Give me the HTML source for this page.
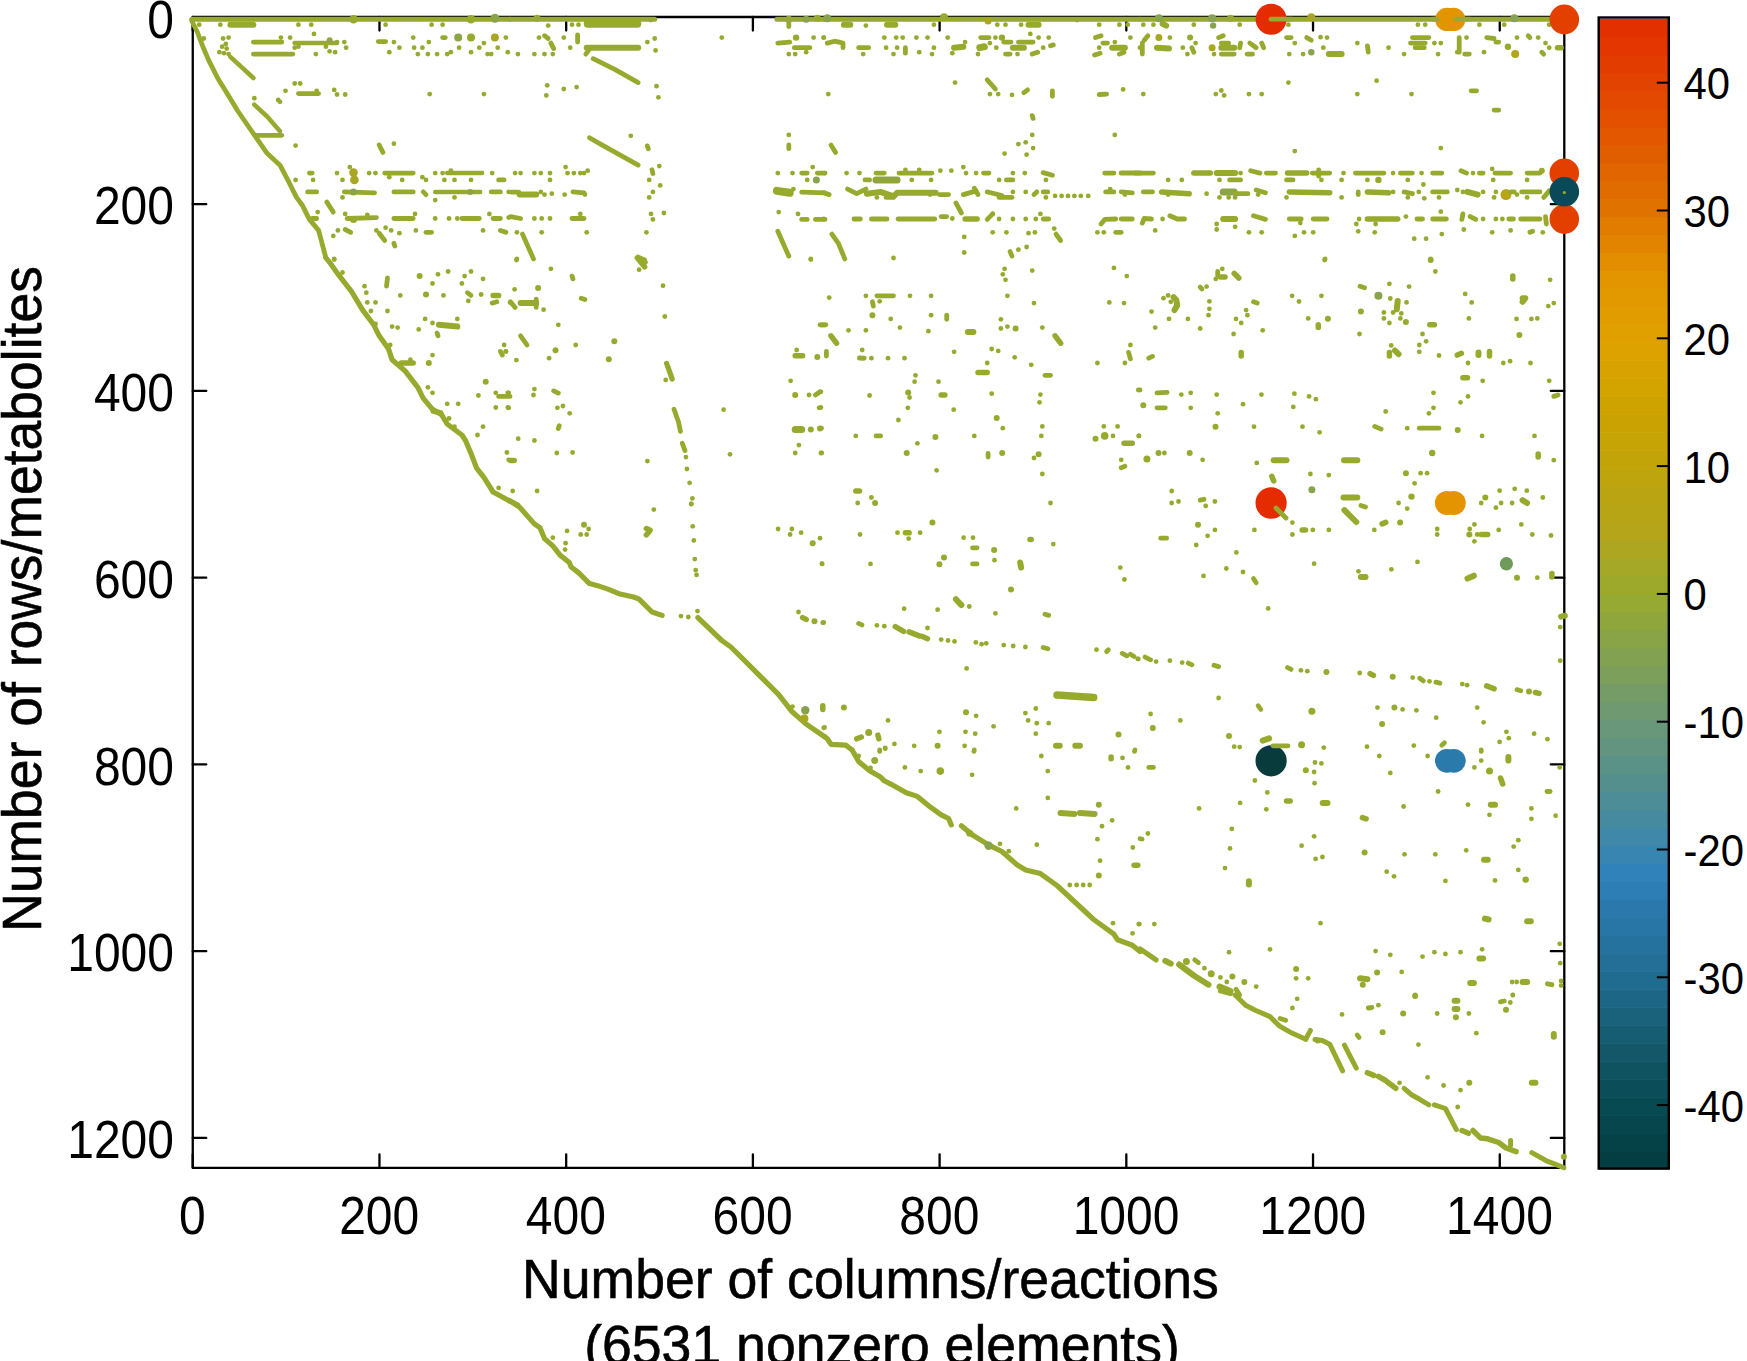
<!DOCTYPE html>
<html><head><meta charset="utf-8"><style>html,body{margin:0;padding:0;background:#fff;overflow:hidden}svg{display:block}</style></head>
<body><svg width="1747" height="1361" viewBox="0 0 1747 1361">
<rect width="1747" height="1361" fill="#fff"/>
<g stroke="#000" stroke-width="2.3" fill="none" stroke-linecap="round"><path d="M192.75,17.0 V1167.86 H1564.3 V17.0 Z" stroke-linejoin="round"/><path d="M192.75,1167.86 v-13.5 M192.75,17.0 v13.5"/><path d="M379.46,1167.86 v-13.5 M379.46,17.0 v13.5"/><path d="M566.18,1167.86 v-13.5 M566.18,17.0 v13.5"/><path d="M752.89,1167.86 v-13.5 M752.89,17.0 v13.5"/><path d="M939.61,1167.86 v-13.5 M939.61,17.0 v13.5"/><path d="M1126.32,1167.86 v-13.5 M1126.32,17.0 v13.5"/><path d="M1313.03,1167.86 v-13.5 M1313.03,17.0 v13.5"/><path d="M1499.75,1167.86 v-13.5 M1499.75,17.0 v13.5"/><path d="M192.75,17.40 h13.5 M1564.3,17.40 h-13.5"/><path d="M192.75,204.15 h13.5 M1564.3,204.15 h-13.5"/><path d="M192.75,390.90 h13.5 M1564.3,390.90 h-13.5"/><path d="M192.75,577.65 h13.5 M1564.3,577.65 h-13.5"/><path d="M192.75,764.40 h13.5 M1564.3,764.40 h-13.5"/><path d="M192.75,951.15 h13.5 M1564.3,951.15 h-13.5"/><path d="M192.75,1137.90 h13.5 M1564.3,1137.90 h-13.5"/></g>
<path d="M191.8,19.2 L510.0,19.2" stroke="#98aa2e" stroke-width="5.0" fill="none" stroke-linecap="round" stroke-linejoin="round"/>
<path d="M230.4,24.7 L253.4,24.7" stroke="#98aa2e" stroke-width="6.0" fill="none" stroke-linecap="round" stroke-linejoin="round"/>
<circle cx="199.2" cy="24.7" r="2.4" fill="#98aa2e"/>
<circle cx="220.3" cy="24.7" r="2.4" fill="#98aa2e"/>
<circle cx="298.4" cy="24.7" r="2.4" fill="#98aa2e"/>
<circle cx="311.2" cy="24.7" r="2.4" fill="#98aa2e"/>
<circle cx="385.6" cy="24.7" r="2.4" fill="#98aa2e"/>
<circle cx="431.6" cy="24.7" r="2.4" fill="#98aa2e"/>
<circle cx="442.6" cy="24.7" r="2.4" fill="#98aa2e"/>
<circle cx="353.5" cy="19.2" r="4.2" fill="#98aa2e"/>
<circle cx="471.0" cy="19.2" r="4.2" fill="#98aa2e"/>
<circle cx="494.9" cy="18.3" r="4.5" fill="#8ba544"/>
<circle cx="314.0" cy="33.9" r="2.4" fill="#98aa2e"/>
<circle cx="203.8" cy="38.5" r="2.4" fill="#98aa2e"/>
<circle cx="223.1" cy="38.5" r="2.4" fill="#98aa2e"/>
<circle cx="228.6" cy="37.6" r="2.4" fill="#98aa2e"/>
<circle cx="225.8" cy="44.0" r="2.4" fill="#98aa2e"/>
<circle cx="222.1" cy="46.7" r="2.4" fill="#98aa2e"/>
<circle cx="226.7" cy="48.6" r="2.4" fill="#98aa2e"/>
<circle cx="219.4" cy="52.2" r="2.4" fill="#98aa2e"/>
<circle cx="224.0" cy="53.2" r="2.4" fill="#98aa2e"/>
<circle cx="228.6" cy="54.1" r="2.4" fill="#98aa2e"/>
<circle cx="280.9" cy="37.6" r="2.4" fill="#98aa2e"/>
<path d="M253.4,42.1 L281.8,42.1" stroke="#98aa2e" stroke-width="4.8" fill="none" stroke-linecap="round" stroke-linejoin="round"/>
<path d="M253.4,54.1 L292.9,54.1" stroke="#98aa2e" stroke-width="4.8" fill="none" stroke-linecap="round" stroke-linejoin="round"/>
<circle cx="290.1" cy="37.6" r="2.4" fill="#98aa2e"/>
<circle cx="325.9" cy="46.7" r="2.4" fill="#98aa2e"/>
<circle cx="329.6" cy="51.3" r="2.4" fill="#98aa2e"/>
<circle cx="335.1" cy="52.2" r="2.4" fill="#98aa2e"/>
<circle cx="337.0" cy="42.1" r="2.4" fill="#98aa2e"/>
<circle cx="344.3" cy="42.1" r="2.4" fill="#98aa2e"/>
<circle cx="346.1" cy="47.7" r="2.4" fill="#98aa2e"/>
<circle cx="294.7" cy="47.7" r="2.4" fill="#98aa2e"/>
<circle cx="298.4" cy="46.7" r="2.4" fill="#98aa2e"/>
<circle cx="315.8" cy="54.1" r="2.4" fill="#98aa2e"/>
<path d="M294.7,43.1 L337.0,43.1" stroke="#98aa2e" stroke-width="4.5" fill="none" stroke-linecap="round" stroke-linejoin="round"/>
<circle cx="329.6" cy="40.3" r="3.0" fill="#90a63c"/>
<path d="M378.3,41.6 L385.6,41.6" stroke="#98aa2e" stroke-width="4.8" fill="none" stroke-linecap="round" stroke-linejoin="round"/>
<circle cx="393.9" cy="42.1" r="2.4" fill="#98aa2e"/>
<circle cx="399.4" cy="47.7" r="2.4" fill="#98aa2e"/>
<circle cx="389.3" cy="52.2" r="2.4" fill="#98aa2e"/>
<circle cx="413.2" cy="37.6" r="2.4" fill="#98aa2e"/>
<circle cx="414.1" cy="47.7" r="2.4" fill="#98aa2e"/>
<circle cx="422.4" cy="47.7" r="2.4" fill="#98aa2e"/>
<circle cx="417.8" cy="54.1" r="2.4" fill="#98aa2e"/>
<circle cx="427.9" cy="54.1" r="2.4" fill="#98aa2e"/>
<circle cx="428.8" cy="42.1" r="2.4" fill="#98aa2e"/>
<circle cx="437.1" cy="54.1" r="2.4" fill="#98aa2e"/>
<path d="M442.6,37.6 L445.3,37.6" stroke="#98aa2e" stroke-width="4.8" fill="none" stroke-linecap="round" stroke-linejoin="round"/>
<circle cx="458.2" cy="37.6" r="4.0" fill="#8ba544"/>
<circle cx="471.0" cy="37.6" r="4.0" fill="#98aa2e"/>
<circle cx="494.9" cy="37.6" r="4.0" fill="#a9a722"/>
<circle cx="505.9" cy="37.6" r="2.4" fill="#98aa2e"/>
<circle cx="459.1" cy="47.7" r="2.4" fill="#98aa2e"/>
<circle cx="479.3" cy="47.7" r="2.4" fill="#98aa2e"/>
<circle cx="483.9" cy="43.1" r="2.4" fill="#98aa2e"/>
<circle cx="497.7" cy="47.7" r="2.4" fill="#98aa2e"/>
<circle cx="471.0" cy="52.2" r="2.4" fill="#98aa2e"/>
<circle cx="447.2" cy="54.1" r="2.4" fill="#98aa2e"/>
<circle cx="450.8" cy="52.2" r="2.4" fill="#98aa2e"/>
<circle cx="491.2" cy="54.1" r="2.4" fill="#98aa2e"/>
<circle cx="487.6" cy="54.1" r="2.4" fill="#98aa2e"/>
<circle cx="507.8" cy="52.2" r="2.4" fill="#98aa2e"/>
<path d="M230.4,56.8 L253.4,78.0" stroke="#98aa2e" stroke-width="4.5" fill="none" stroke-linecap="round" stroke-linejoin="round"/>
<circle cx="294.7" cy="83.5" r="2.4" fill="#98aa2e"/>
<circle cx="300.2" cy="83.5" r="2.4" fill="#98aa2e"/>
<circle cx="285.5" cy="90.8" r="2.4" fill="#98aa2e"/>
<circle cx="316.7" cy="90.8" r="2.4" fill="#98aa2e"/>
<circle cx="334.2" cy="89.9" r="2.4" fill="#98aa2e"/>
<circle cx="337.0" cy="94.5" r="2.4" fill="#98aa2e"/>
<circle cx="345.2" cy="94.5" r="2.4" fill="#98aa2e"/>
<circle cx="429.7" cy="94.1" r="2.4" fill="#98aa2e"/>
<circle cx="483.9" cy="94.1" r="2.4" fill="#98aa2e"/>
<circle cx="254.3" cy="98.2" r="2.4" fill="#98aa2e"/>
<circle cx="278.2" cy="100.0" r="2.4" fill="#98aa2e"/>
<circle cx="280.0" cy="101.8" r="2.4" fill="#98aa2e"/>
<path d="M298.4,93.6 L318.6,93.6" stroke="#98aa2e" stroke-width="4.8" fill="none" stroke-linecap="round" stroke-linejoin="round"/>
<path d="M254.3,104.6 L267.1,116.5 L280.0,131.2" stroke="#98aa2e" stroke-width="4.5" fill="none" stroke-linecap="round" stroke-linejoin="round"/>
<path d="M255.2,135.3 L281.8,135.3" stroke="#98aa2e" stroke-width="4.8" fill="none" stroke-linecap="round" stroke-linejoin="round"/>
<circle cx="295.6" cy="145.6" r="2.4" fill="#98aa2e"/>
<circle cx="393.9" cy="143.7" r="2.4" fill="#98aa2e"/>
<path d="M379.2,145.0 L382.9,152.4" stroke="#98aa2e" stroke-width="4.8" fill="none" stroke-linecap="round" stroke-linejoin="round"/>
<path d="M191.8,21.0 L197.3,32.0 L202.9,46.7 L208.4,59.6 L217.6,78.0 L226.7,92.7 L237.8,111.0 L254.3,134.9 L267.1,153.3 L280.0,165.2 L289.2,182.7 L296.5,197.4 L302.0,204.7 L309.4,219.4 L318.6,230.4 L325.9,258.0" stroke="#98aa2e" stroke-width="4.8" fill="none" stroke-linecap="round" stroke-linejoin="round"/>
<path d="M309.4,173.1 L312.2,173.1" stroke="#98aa2e" stroke-width="4.8" fill="none" stroke-linecap="round" stroke-linejoin="round"/>
<circle cx="337.0" cy="173.1" r="2.4" fill="#98aa2e"/>
<circle cx="349.8" cy="167.1" r="2.4" fill="#98aa2e"/>
<circle cx="369.1" cy="173.1" r="2.4" fill="#98aa2e"/>
<circle cx="375.5" cy="173.1" r="2.4" fill="#98aa2e"/>
<circle cx="389.3" cy="177.2" r="2.4" fill="#98aa2e"/>
<circle cx="402.2" cy="179.9" r="2.4" fill="#98aa2e"/>
<circle cx="422.4" cy="177.2" r="2.4" fill="#98aa2e"/>
<circle cx="426.0" cy="179.9" r="2.4" fill="#98aa2e"/>
<circle cx="435.2" cy="173.1" r="2.4" fill="#98aa2e"/>
<circle cx="442.6" cy="173.1" r="2.4" fill="#98aa2e"/>
<circle cx="444.4" cy="179.9" r="2.4" fill="#98aa2e"/>
<circle cx="450.8" cy="170.7" r="2.4" fill="#98aa2e"/>
<circle cx="454.5" cy="179.9" r="2.4" fill="#98aa2e"/>
<circle cx="471.0" cy="179.9" r="2.4" fill="#98aa2e"/>
<circle cx="492.2" cy="173.1" r="2.4" fill="#98aa2e"/>
<circle cx="295.6" cy="179.9" r="2.4" fill="#98aa2e"/>
<circle cx="313.1" cy="179.9" r="2.4" fill="#98aa2e"/>
<circle cx="342.5" cy="179.9" r="2.4" fill="#98aa2e"/>
<circle cx="353.5" cy="172.6" r="4.3" fill="#a9a722"/>
<circle cx="354.4" cy="179.9" r="4.3" fill="#a9a722"/>
<path d="M384.7,173.1 L413.2,173.1" stroke="#98aa2e" stroke-width="4.8" fill="none" stroke-linecap="round" stroke-linejoin="round"/>
<path d="M447.2,173.1 L482.1,173.1" stroke="#98aa2e" stroke-width="4.5" fill="none" stroke-linecap="round" stroke-linejoin="round"/>
<path d="M498.6,179.9 L504.1,179.9" stroke="#98aa2e" stroke-width="4.8" fill="none" stroke-linecap="round" stroke-linejoin="round"/>
<path d="M307.6,191.9 L316.7,191.9" stroke="#98aa2e" stroke-width="4.8" fill="none" stroke-linecap="round" stroke-linejoin="round"/>
<circle cx="342.5" cy="197.4" r="2.4" fill="#98aa2e"/>
<circle cx="435.2" cy="200.1" r="2.4" fill="#98aa2e"/>
<circle cx="454.5" cy="197.4" r="2.4" fill="#98aa2e"/>
<circle cx="508.7" cy="191.9" r="2.4" fill="#98aa2e"/>
<path d="M344.3,191.9 L374.6,192.8" stroke="#98aa2e" stroke-width="4.8" fill="none" stroke-linecap="round" stroke-linejoin="round"/>
<circle cx="353.5" cy="191.9" r="3.5" fill="#8ba544"/>
<path d="M393.9,191.9 L413.2,191.9" stroke="#98aa2e" stroke-width="4.8" fill="none" stroke-linecap="round" stroke-linejoin="round"/>
<path d="M423.3,191.9 L426.0,194.6" stroke="#98aa2e" stroke-width="4.8" fill="none" stroke-linecap="round" stroke-linejoin="round"/>
<path d="M435.2,191.9 L480.2,191.9" stroke="#98aa2e" stroke-width="4.5" fill="none" stroke-linecap="round" stroke-linejoin="round"/>
<circle cx="470.1" cy="191.9" r="3.0" fill="#8ba544"/>
<path d="M491.2,191.9 L500.4,191.9" stroke="#98aa2e" stroke-width="4.8" fill="none" stroke-linecap="round" stroke-linejoin="round"/>
<path d="M326.8,202.0 L333.3,212.1" stroke="#98aa2e" stroke-width="4.8" fill="none" stroke-linecap="round" stroke-linejoin="round"/>
<circle cx="317.7" cy="212.1" r="2.4" fill="#98aa2e"/>
<circle cx="345.2" cy="213.9" r="2.4" fill="#98aa2e"/>
<circle cx="367.3" cy="214.8" r="2.4" fill="#98aa2e"/>
<circle cx="415.0" cy="213.9" r="2.4" fill="#98aa2e"/>
<circle cx="435.2" cy="218.5" r="2.4" fill="#98aa2e"/>
<circle cx="449.0" cy="218.5" r="2.4" fill="#98aa2e"/>
<circle cx="457.3" cy="218.5" r="2.4" fill="#98aa2e"/>
<circle cx="489.4" cy="213.9" r="2.4" fill="#98aa2e"/>
<circle cx="508.7" cy="217.6" r="2.4" fill="#98aa2e"/>
<path d="M312.2,218.5 L316.7,218.5" stroke="#98aa2e" stroke-width="4.8" fill="none" stroke-linecap="round" stroke-linejoin="round"/>
<path d="M347.1,218.5 L376.4,217.6" stroke="#98aa2e" stroke-width="4.8" fill="none" stroke-linecap="round" stroke-linejoin="round"/>
<circle cx="353.5" cy="219.4" r="3.5" fill="#98aa2e"/>
<path d="M393.9,218.5 L413.2,218.5" stroke="#98aa2e" stroke-width="4.8" fill="none" stroke-linecap="round" stroke-linejoin="round"/>
<path d="M461.9,218.5 L479.3,218.5" stroke="#98aa2e" stroke-width="4.8" fill="none" stroke-linecap="round" stroke-linejoin="round"/>
<path d="M493.1,218.5 L500.4,218.5" stroke="#98aa2e" stroke-width="4.8" fill="none" stroke-linecap="round" stroke-linejoin="round"/>
<circle cx="337.9" cy="230.4" r="2.4" fill="#98aa2e"/>
<circle cx="333.3" cy="235.9" r="2.4" fill="#98aa2e"/>
<circle cx="376.4" cy="230.4" r="2.4" fill="#98aa2e"/>
<circle cx="385.6" cy="227.7" r="2.4" fill="#98aa2e"/>
<circle cx="391.1" cy="230.4" r="2.4" fill="#98aa2e"/>
<circle cx="399.4" cy="233.2" r="2.4" fill="#98aa2e"/>
<circle cx="415.9" cy="230.4" r="2.4" fill="#98aa2e"/>
<circle cx="483.0" cy="230.4" r="2.4" fill="#98aa2e"/>
<circle cx="334.2" cy="258.9" r="2.4" fill="#98aa2e"/>
<path d="M345.2,229.5 L350.7,232.3" stroke="#98aa2e" stroke-width="4.8" fill="none" stroke-linecap="round" stroke-linejoin="round"/>
<path d="M379.2,233.2 L384.7,240.5" stroke="#98aa2e" stroke-width="4.8" fill="none" stroke-linecap="round" stroke-linejoin="round"/>
<path d="M393.9,243.3 L394.8,246.0" stroke="#98aa2e" stroke-width="4.8" fill="none" stroke-linecap="round" stroke-linejoin="round"/>
<path d="M426.0,232.3 L431.6,232.3" stroke="#98aa2e" stroke-width="4.8" fill="none" stroke-linecap="round" stroke-linejoin="round"/>
<path d="M500.4,230.4 L505.9,232.3" stroke="#98aa2e" stroke-width="4.8" fill="none" stroke-linecap="round" stroke-linejoin="round"/>
<path d="M510.0,19.2 L654.7,19.2" stroke="#98aa2e" stroke-width="5.0" fill="none" stroke-linecap="round" stroke-linejoin="round"/>
<path d="M776.9,19.2 L825.0,19.2" stroke="#98aa2e" stroke-width="5.0" fill="none" stroke-linecap="round" stroke-linejoin="round"/>
<circle cx="788.8" cy="19.2" r="3.5" fill="#98aa2e"/>
<circle cx="817.3" cy="18.3" r="3.5" fill="#98aa2e"/>
<circle cx="806.2" cy="19.2" r="3.5" fill="#8ba544"/>
<circle cx="537.1" cy="18.3" r="3.5" fill="#98aa2e"/>
<path d="M587.7,23.8 L637.3,23.8" stroke="#98aa2e" stroke-width="8.0" fill="none" stroke-linecap="round" stroke-linejoin="round"/>
<circle cx="548.2" cy="25.6" r="2.4" fill="#98aa2e"/>
<circle cx="572.0" cy="24.7" r="2.4" fill="#98aa2e"/>
<circle cx="578.5" cy="24.7" r="2.4" fill="#98aa2e"/>
<circle cx="651.0" cy="20.1" r="2.4" fill="#98aa2e"/>
<path d="M788.8,19.2 L788.8,26.5" stroke="#98aa2e" stroke-width="4.8" fill="none" stroke-linecap="round" stroke-linejoin="round"/>
<circle cx="539.0" cy="37.6" r="2.4" fill="#98aa2e"/>
<circle cx="563.8" cy="37.6" r="2.4" fill="#98aa2e"/>
<circle cx="570.2" cy="47.7" r="2.4" fill="#98aa2e"/>
<circle cx="517.9" cy="54.1" r="2.4" fill="#98aa2e"/>
<circle cx="534.4" cy="54.1" r="2.4" fill="#98aa2e"/>
<circle cx="544.5" cy="54.1" r="2.4" fill="#98aa2e"/>
<circle cx="552.8" cy="54.1" r="2.4" fill="#98aa2e"/>
<circle cx="647.4" cy="42.1" r="2.4" fill="#98aa2e"/>
<circle cx="654.7" cy="38.5" r="2.4" fill="#98aa2e"/>
<circle cx="655.6" cy="50.4" r="2.4" fill="#98aa2e"/>
<path d="M544.5,35.7 L548.2,38.5" stroke="#98aa2e" stroke-width="4.8" fill="none" stroke-linecap="round" stroke-linejoin="round"/>
<path d="M550.9,43.1 L553.7,48.6" stroke="#98aa2e" stroke-width="4.8" fill="none" stroke-linecap="round" stroke-linejoin="round"/>
<path d="M577.6,34.8 L577.6,42.1" stroke="#98aa2e" stroke-width="4.8" fill="none" stroke-linecap="round" stroke-linejoin="round"/>
<path d="M586.7,47.7 L638.2,47.7" stroke="#98aa2e" stroke-width="6.0" fill="none" stroke-linecap="round" stroke-linejoin="round"/>
<path d="M585.8,54.1 L588.6,50.4" stroke="#98aa2e" stroke-width="4.8" fill="none" stroke-linecap="round" stroke-linejoin="round"/>
<path d="M593.2,58.7 L615.2,69.7 L638.2,82.6" stroke="#98aa2e" stroke-width="4.8" fill="none" stroke-linecap="round" stroke-linejoin="round"/>
<circle cx="547.2" cy="85.3" r="2.4" fill="#98aa2e"/>
<circle cx="546.3" cy="95.4" r="2.4" fill="#98aa2e"/>
<circle cx="563.8" cy="89.0" r="2.4" fill="#98aa2e"/>
<circle cx="576.6" cy="87.1" r="2.4" fill="#98aa2e"/>
<circle cx="656.5" cy="86.2" r="2.4" fill="#98aa2e"/>
<circle cx="658.4" cy="97.3" r="2.4" fill="#98aa2e"/>
<circle cx="721.8" cy="37.6" r="2.4" fill="#98aa2e"/>
<path d="M777.8,43.1 L789.7,42.1" stroke="#98aa2e" stroke-width="4.8" fill="none" stroke-linecap="round" stroke-linejoin="round"/>
<circle cx="796.1" cy="37.6" r="3.2" fill="#98aa2e"/>
<path d="M794.3,47.7 L809.9,47.7" stroke="#98aa2e" stroke-width="4.8" fill="none" stroke-linecap="round" stroke-linejoin="round"/>
<circle cx="788.8" cy="54.1" r="2.4" fill="#98aa2e"/>
<circle cx="795.2" cy="54.1" r="2.4" fill="#98aa2e"/>
<circle cx="806.2" cy="52.2" r="2.4" fill="#98aa2e"/>
<circle cx="813.6" cy="37.6" r="2.4" fill="#98aa2e"/>
<circle cx="823.7" cy="37.6" r="2.4" fill="#98aa2e"/>
<path d="M589.5,137.7 L600.5,144.1 L638.2,165.2" stroke="#98aa2e" stroke-width="4.8" fill="none" stroke-linecap="round" stroke-linejoin="round"/>
<circle cx="630.8" cy="135.8" r="2.4" fill="#98aa2e"/>
<circle cx="659.3" cy="166.1" r="2.4" fill="#98aa2e"/>
<circle cx="649.2" cy="179.9" r="2.4" fill="#98aa2e"/>
<circle cx="660.2" cy="185.4" r="2.4" fill="#98aa2e"/>
<circle cx="652.9" cy="191.9" r="2.4" fill="#98aa2e"/>
<circle cx="649.2" cy="197.4" r="2.4" fill="#98aa2e"/>
<circle cx="651.0" cy="213.9" r="2.4" fill="#98aa2e"/>
<circle cx="652.9" cy="219.4" r="2.4" fill="#98aa2e"/>
<circle cx="663.9" cy="213.0" r="2.4" fill="#98aa2e"/>
<circle cx="646.4" cy="232.3" r="2.4" fill="#98aa2e"/>
<circle cx="586.7" cy="232.3" r="2.4" fill="#98aa2e"/>
<circle cx="541.7" cy="232.3" r="2.4" fill="#98aa2e"/>
<circle cx="516.9" cy="232.3" r="2.4" fill="#98aa2e"/>
<path d="M647.4,145.9 L648.3,148.7" stroke="#98aa2e" stroke-width="4.8" fill="none" stroke-linecap="round" stroke-linejoin="round"/>
<path d="M652.0,169.8 L652.9,173.5" stroke="#98aa2e" stroke-width="4.8" fill="none" stroke-linecap="round" stroke-linejoin="round"/>
<circle cx="515.1" cy="173.1" r="2.4" fill="#98aa2e"/>
<circle cx="520.6" cy="173.1" r="2.4" fill="#98aa2e"/>
<circle cx="534.4" cy="173.1" r="2.4" fill="#98aa2e"/>
<circle cx="540.8" cy="173.1" r="2.4" fill="#98aa2e"/>
<circle cx="550.0" cy="173.1" r="2.4" fill="#98aa2e"/>
<circle cx="550.0" cy="179.9" r="2.4" fill="#98aa2e"/>
<circle cx="565.6" cy="167.1" r="2.4" fill="#98aa2e"/>
<circle cx="567.5" cy="173.1" r="2.4" fill="#98aa2e"/>
<circle cx="573.9" cy="173.1" r="2.4" fill="#98aa2e"/>
<circle cx="580.3" cy="173.1" r="2.4" fill="#98aa2e"/>
<circle cx="584.0" cy="173.1" r="2.4" fill="#98aa2e"/>
<circle cx="587.7" cy="170.7" r="2.4" fill="#98aa2e"/>
<path d="M511.4,192.2 L518.8,192.2" stroke="#98aa2e" stroke-width="4.8" fill="none" stroke-linecap="round" stroke-linejoin="round"/>
<path d="M519.7,194.6 L536.2,194.6" stroke="#98aa2e" stroke-width="6.0" fill="none" stroke-linecap="round" stroke-linejoin="round"/>
<circle cx="540.8" cy="191.9" r="2.4" fill="#98aa2e"/>
<circle cx="544.5" cy="194.6" r="2.4" fill="#98aa2e"/>
<circle cx="551.8" cy="193.7" r="2.4" fill="#98aa2e"/>
<circle cx="564.7" cy="194.6" r="2.4" fill="#98aa2e"/>
<circle cx="584.9" cy="194.6" r="2.4" fill="#98aa2e"/>
<path d="M573.0,191.9 L584.0,192.8" stroke="#98aa2e" stroke-width="4.8" fill="none" stroke-linecap="round" stroke-linejoin="round"/>
<path d="M510.5,216.6 L520.6,218.5" stroke="#98aa2e" stroke-width="4.8" fill="none" stroke-linecap="round" stroke-linejoin="round"/>
<circle cx="534.4" cy="218.5" r="2.4" fill="#98aa2e"/>
<circle cx="541.7" cy="218.5" r="2.4" fill="#98aa2e"/>
<circle cx="550.0" cy="218.5" r="2.4" fill="#98aa2e"/>
<circle cx="580.3" cy="213.9" r="2.4" fill="#98aa2e"/>
<path d="M572.0,218.5 L584.0,218.5" stroke="#98aa2e" stroke-width="4.8" fill="none" stroke-linecap="round" stroke-linejoin="round"/>
<path d="M522.5,234.1 L533.5,258.9" stroke="#98aa2e" stroke-width="4.8" fill="none" stroke-linecap="round" stroke-linejoin="round"/>
<circle cx="516.9" cy="258.9" r="2.4" fill="#98aa2e"/>
<circle cx="788.8" cy="134.9" r="2.4" fill="#98aa2e"/>
<circle cx="777.8" cy="173.1" r="2.4" fill="#98aa2e"/>
<circle cx="792.5" cy="173.1" r="2.4" fill="#98aa2e"/>
<circle cx="812.7" cy="167.1" r="2.4" fill="#98aa2e"/>
<circle cx="807.2" cy="179.9" r="2.4" fill="#98aa2e"/>
<circle cx="793.4" cy="189.1" r="2.4" fill="#98aa2e"/>
<circle cx="778.7" cy="212.1" r="2.4" fill="#98aa2e"/>
<circle cx="798.0" cy="213.9" r="2.4" fill="#98aa2e"/>
<circle cx="810.8" cy="258.9" r="2.4" fill="#98aa2e"/>
<path d="M638.2,257.1 L644.6,260.0" stroke="#98aa2e" stroke-width="4.8" fill="none" stroke-linecap="round" stroke-linejoin="round"/>
<path d="M788.8,145.0 L788.8,148.7" stroke="#98aa2e" stroke-width="4.8" fill="none" stroke-linecap="round" stroke-linejoin="round"/>
<path d="M801.7,173.1 L807.2,173.1" stroke="#98aa2e" stroke-width="4.8" fill="none" stroke-linecap="round" stroke-linejoin="round"/>
<path d="M817.3,173.1 L825.0,173.1" stroke="#98aa2e" stroke-width="4.8" fill="none" stroke-linecap="round" stroke-linejoin="round"/>
<circle cx="816.4" cy="179.9" r="3.5" fill="#87a34b"/>
<path d="M776.9,190.9 L789.7,192.8" stroke="#98aa2e" stroke-width="8.0" fill="none" stroke-linecap="round" stroke-linejoin="round"/>
<path d="M801.7,192.2 L825.0,192.8" stroke="#98aa2e" stroke-width="4.8" fill="none" stroke-linecap="round" stroke-linejoin="round"/>
<path d="M801.7,219.4 L807.2,219.4" stroke="#98aa2e" stroke-width="4.8" fill="none" stroke-linecap="round" stroke-linejoin="round"/>
<path d="M815.4,219.4 L825.0,219.4" stroke="#98aa2e" stroke-width="4.8" fill="none" stroke-linecap="round" stroke-linejoin="round"/>
<path d="M777.8,231.3 L788.8,256.1" stroke="#98aa2e" stroke-width="4.8" fill="none" stroke-linecap="round" stroke-linejoin="round"/>
<path d="M825.0,19.2 L1140.0,19.2" stroke="#98aa2e" stroke-width="5.0" fill="none" stroke-linecap="round" stroke-linejoin="round"/>
<circle cx="827.3" cy="18.3" r="4.0" fill="#87a34b"/>
<circle cx="944.0" cy="17.3" r="4.0" fill="#98aa2e"/>
<circle cx="988.1" cy="21.0" r="3.5" fill="#a9a722"/>
<path d="M843.9,24.7 L850.3,24.7" stroke="#98aa2e" stroke-width="6.0" fill="none" stroke-linecap="round" stroke-linejoin="round"/>
<path d="M887.0,24.7 L895.3,24.7" stroke="#98aa2e" stroke-width="6.0" fill="none" stroke-linecap="round" stroke-linejoin="round"/>
<path d="M1028.5,24.7 L1038.6,24.7" stroke="#98aa2e" stroke-width="6.0" fill="none" stroke-linecap="round" stroke-linejoin="round"/>
<circle cx="865.9" cy="25.6" r="2.4" fill="#98aa2e"/>
<circle cx="933.9" cy="24.7" r="2.4" fill="#98aa2e"/>
<circle cx="997.3" cy="24.7" r="2.4" fill="#98aa2e"/>
<circle cx="1005.5" cy="24.7" r="2.4" fill="#98aa2e"/>
<circle cx="1021.1" cy="24.7" r="2.4" fill="#98aa2e"/>
<circle cx="1077.2" cy="20.1" r="2.4" fill="#98aa2e"/>
<circle cx="1099.2" cy="24.7" r="2.4" fill="#98aa2e"/>
<circle cx="1119.4" cy="24.7" r="2.4" fill="#98aa2e"/>
<circle cx="1127.7" cy="24.7" r="2.4" fill="#98aa2e"/>
<circle cx="823.7" cy="37.6" r="2.4" fill="#98aa2e"/>
<circle cx="863.2" cy="54.1" r="2.4" fill="#98aa2e"/>
<circle cx="884.3" cy="37.6" r="2.4" fill="#98aa2e"/>
<circle cx="896.2" cy="37.6" r="2.4" fill="#98aa2e"/>
<circle cx="902.7" cy="37.6" r="2.4" fill="#98aa2e"/>
<circle cx="886.1" cy="47.7" r="2.4" fill="#98aa2e"/>
<circle cx="897.1" cy="47.7" r="2.4" fill="#98aa2e"/>
<circle cx="893.5" cy="54.1" r="2.4" fill="#98aa2e"/>
<circle cx="916.4" cy="37.6" r="2.4" fill="#98aa2e"/>
<circle cx="927.5" cy="37.6" r="2.4" fill="#98aa2e"/>
<circle cx="919.2" cy="52.2" r="2.4" fill="#98aa2e"/>
<circle cx="933.9" cy="47.7" r="2.4" fill="#98aa2e"/>
<circle cx="932.0" cy="54.1" r="2.4" fill="#98aa2e"/>
<circle cx="947.7" cy="37.6" r="2.4" fill="#98aa2e"/>
<circle cx="952.3" cy="53.2" r="2.4" fill="#98aa2e"/>
<circle cx="965.1" cy="42.1" r="2.4" fill="#98aa2e"/>
<path d="M827.3,43.1 L834.7,41.2 L843.0,43.1 L843.0,47.7" stroke="#98aa2e" stroke-width="4.8" fill="none" stroke-linecap="round" stroke-linejoin="round"/>
<path d="M858.6,47.7 L868.7,47.7" stroke="#98aa2e" stroke-width="4.8" fill="none" stroke-linecap="round" stroke-linejoin="round"/>
<path d="M905.4,47.7 L905.4,53.2" stroke="#98aa2e" stroke-width="4.8" fill="none" stroke-linecap="round" stroke-linejoin="round"/>
<path d="M954.1,47.7 L963.3,46.7" stroke="#98aa2e" stroke-width="6.0" fill="none" stroke-linecap="round" stroke-linejoin="round"/>
<path d="M980.7,37.6 L989.0,37.6" stroke="#98aa2e" stroke-width="4.8" fill="none" stroke-linecap="round" stroke-linejoin="round"/>
<circle cx="995.4" cy="37.6" r="2.4" fill="#98aa2e"/>
<circle cx="989.9" cy="43.1" r="2.4" fill="#98aa2e"/>
<circle cx="996.3" cy="47.7" r="2.4" fill="#98aa2e"/>
<circle cx="978.0" cy="54.1" r="2.4" fill="#98aa2e"/>
<circle cx="1017.5" cy="54.1" r="2.4" fill="#98aa2e"/>
<circle cx="1030.3" cy="33.9" r="2.4" fill="#98aa2e"/>
<circle cx="1038.6" cy="37.6" r="2.4" fill="#98aa2e"/>
<circle cx="1048.7" cy="37.6" r="2.4" fill="#98aa2e"/>
<circle cx="1043.2" cy="47.7" r="2.4" fill="#98aa2e"/>
<circle cx="1001.9" cy="37.6" r="3.2" fill="#98aa2e"/>
<path d="M1003.7,42.1 L1011.0,42.1" stroke="#98aa2e" stroke-width="4.8" fill="none" stroke-linecap="round" stroke-linejoin="round"/>
<path d="M979.8,47.7 L984.4,46.7" stroke="#98aa2e" stroke-width="7.0" fill="none" stroke-linecap="round" stroke-linejoin="round"/>
<path d="M1005.5,54.1 L1010.1,54.1" stroke="#98aa2e" stroke-width="4.8" fill="none" stroke-linecap="round" stroke-linejoin="round"/>
<path d="M1012.9,47.7 L1023.9,47.7" stroke="#98aa2e" stroke-width="6.0" fill="none" stroke-linecap="round" stroke-linejoin="round"/>
<path d="M1018.4,42.1 L1033.1,42.1" stroke="#98aa2e" stroke-width="4.8" fill="none" stroke-linecap="round" stroke-linejoin="round"/>
<path d="M1050.5,45.8 L1053.3,44.9" stroke="#98aa2e" stroke-width="4.8" fill="none" stroke-linecap="round" stroke-linejoin="round"/>
<path d="M1032.2,54.1 L1037.7,52.2" stroke="#98aa2e" stroke-width="4.8" fill="none" stroke-linecap="round" stroke-linejoin="round"/>
<path d="M1095.5,37.6 L1101.0,35.7" stroke="#98aa2e" stroke-width="4.8" fill="none" stroke-linecap="round" stroke-linejoin="round"/>
<path d="M1102.9,43.1 L1107.5,43.1" stroke="#98aa2e" stroke-width="4.8" fill="none" stroke-linecap="round" stroke-linejoin="round"/>
<circle cx="1099.2" cy="47.7" r="2.4" fill="#98aa2e"/>
<circle cx="1114.8" cy="42.1" r="2.4" fill="#98aa2e"/>
<circle cx="1130.4" cy="37.6" r="2.4" fill="#98aa2e"/>
<circle cx="1140.0" cy="47.7" r="2.4" fill="#98aa2e"/>
<path d="M1094.6,55.0 L1100.1,53.2" stroke="#98aa2e" stroke-width="4.8" fill="none" stroke-linecap="round" stroke-linejoin="round"/>
<path d="M1112.1,47.7 L1124.9,47.7" stroke="#98aa2e" stroke-width="6.0" fill="none" stroke-linecap="round" stroke-linejoin="round"/>
<path d="M1119.4,54.1 L1124.0,52.2" stroke="#98aa2e" stroke-width="4.8" fill="none" stroke-linecap="round" stroke-linejoin="round"/>
<circle cx="828.3" cy="94.1" r="2.4" fill="#98aa2e"/>
<circle cx="955.0" cy="82.6" r="2.4" fill="#98aa2e"/>
<circle cx="989.9" cy="94.1" r="2.4" fill="#98aa2e"/>
<circle cx="998.2" cy="94.1" r="2.4" fill="#98aa2e"/>
<circle cx="1012.0" cy="94.9" r="2.4" fill="#98aa2e"/>
<circle cx="1123.1" cy="89.4" r="2.4" fill="#98aa2e"/>
<circle cx="1032.2" cy="134.9" r="2.4" fill="#98aa2e"/>
<circle cx="1018.4" cy="144.1" r="2.4" fill="#98aa2e"/>
<circle cx="1025.7" cy="142.3" r="2.4" fill="#98aa2e"/>
<circle cx="1033.1" cy="148.1" r="2.4" fill="#98aa2e"/>
<circle cx="1004.6" cy="153.6" r="2.4" fill="#98aa2e"/>
<circle cx="1026.6" cy="154.7" r="2.4" fill="#98aa2e"/>
<circle cx="1114.8" cy="134.9" r="2.4" fill="#98aa2e"/>
<path d="M987.2,79.8 L995.4,89.0" stroke="#98aa2e" stroke-width="4.8" fill="none" stroke-linecap="round" stroke-linejoin="round"/>
<path d="M1023.9,92.7 L1027.6,89.9" stroke="#98aa2e" stroke-width="4.8" fill="none" stroke-linecap="round" stroke-linejoin="round"/>
<path d="M1052.4,90.8 L1052.4,96.3" stroke="#98aa2e" stroke-width="4.8" fill="none" stroke-linecap="round" stroke-linejoin="round"/>
<path d="M1099.2,94.5 L1106.6,94.1" stroke="#98aa2e" stroke-width="4.8" fill="none" stroke-linecap="round" stroke-linejoin="round"/>
<path d="M1032.2,115.6 L1033.1,118.4" stroke="#98aa2e" stroke-width="4.8" fill="none" stroke-linecap="round" stroke-linejoin="round"/>
<path d="M831.0,145.0 L835.6,152.4" stroke="#98aa2e" stroke-width="4.8" fill="none" stroke-linecap="round" stroke-linejoin="round"/>
<circle cx="824.6" cy="173.1" r="2.4" fill="#98aa2e"/>
<circle cx="846.6" cy="173.1" r="2.4" fill="#98aa2e"/>
<circle cx="859.5" cy="173.1" r="2.4" fill="#98aa2e"/>
<circle cx="940.3" cy="170.7" r="2.4" fill="#98aa2e"/>
<circle cx="951.3" cy="170.7" r="2.4" fill="#98aa2e"/>
<circle cx="963.3" cy="167.1" r="2.4" fill="#98aa2e"/>
<circle cx="966.0" cy="173.1" r="2.4" fill="#98aa2e"/>
<circle cx="976.1" cy="173.1" r="2.4" fill="#98aa2e"/>
<circle cx="1012.9" cy="173.1" r="2.4" fill="#98aa2e"/>
<circle cx="1024.8" cy="173.1" r="2.4" fill="#98aa2e"/>
<circle cx="905.4" cy="169.8" r="2.4" fill="#98aa2e"/>
<circle cx="919.2" cy="169.8" r="2.4" fill="#98aa2e"/>
<path d="M876.0,173.1 L884.3,173.1" stroke="#98aa2e" stroke-width="4.8" fill="none" stroke-linecap="round" stroke-linejoin="round"/>
<path d="M899.0,173.1 L932.0,173.1" stroke="#98aa2e" stroke-width="4.8" fill="none" stroke-linecap="round" stroke-linejoin="round"/>
<path d="M983.5,173.1 L989.0,173.1" stroke="#98aa2e" stroke-width="4.8" fill="none" stroke-linecap="round" stroke-linejoin="round"/>
<path d="M1043.2,172.6 L1052.4,175.3" stroke="#98aa2e" stroke-width="4.8" fill="none" stroke-linecap="round" stroke-linejoin="round"/>
<path d="M1104.7,173.1 L1113.9,173.1" stroke="#98aa2e" stroke-width="4.8" fill="none" stroke-linecap="round" stroke-linejoin="round"/>
<path d="M1121.2,173.1 L1140.0,173.1" stroke="#98aa2e" stroke-width="5.0" fill="none" stroke-linecap="round" stroke-linejoin="round"/>
<circle cx="911.8" cy="179.9" r="2.4" fill="#98aa2e"/>
<circle cx="931.1" cy="179.9" r="2.4" fill="#98aa2e"/>
<circle cx="999.1" cy="179.9" r="2.4" fill="#98aa2e"/>
<circle cx="1045.9" cy="179.9" r="2.4" fill="#98aa2e"/>
<path d="M865.0,179.9 L869.6,179.9" stroke="#98aa2e" stroke-width="4.8" fill="none" stroke-linecap="round" stroke-linejoin="round"/>
<path d="M876.0,179.9 L897.1,179.9" stroke="#90a63c" stroke-width="7.0" fill="none" stroke-linecap="round" stroke-linejoin="round"/>
<path d="M1006.4,179.9 L1012.9,179.9" stroke="#98aa2e" stroke-width="4.8" fill="none" stroke-linecap="round" stroke-linejoin="round"/>
<path d="M823.7,192.8 L829.2,194.6" stroke="#98aa2e" stroke-width="4.8" fill="none" stroke-linecap="round" stroke-linejoin="round"/>
<path d="M847.6,189.1 L856.7,193.7 L865.9,189.1" stroke="#98aa2e" stroke-width="4.8" fill="none" stroke-linecap="round" stroke-linejoin="round"/>
<path d="M866.8,193.7 L880.6,191.9 L893.5,196.4 L897.1,192.8 L935.7,192.8" stroke="#98aa2e" stroke-width="6.0" fill="none" stroke-linecap="round" stroke-linejoin="round"/>
<path d="M886.1,197.4 L893.5,197.4" stroke="#98aa2e" stroke-width="4.8" fill="none" stroke-linecap="round" stroke-linejoin="round"/>
<circle cx="876.9" cy="197.4" r="2.4" fill="#98aa2e"/>
<circle cx="930.2" cy="194.6" r="2.4" fill="#98aa2e"/>
<circle cx="1012.9" cy="191.9" r="2.4" fill="#98aa2e"/>
<circle cx="1025.7" cy="191.9" r="2.4" fill="#98aa2e"/>
<circle cx="1045.9" cy="197.4" r="2.4" fill="#98aa2e"/>
<circle cx="1110.2" cy="189.1" r="2.4" fill="#98aa2e"/>
<circle cx="1124.9" cy="194.6" r="2.4" fill="#98aa2e"/>
<path d="M939.4,194.6 L948.6,194.6" stroke="#98aa2e" stroke-width="4.8" fill="none" stroke-linecap="round" stroke-linejoin="round"/>
<path d="M963.3,194.6 L976.1,190.9" stroke="#98aa2e" stroke-width="4.8" fill="none" stroke-linecap="round" stroke-linejoin="round"/>
<path d="M974.3,188.2 L978.0,194.6" stroke="#98aa2e" stroke-width="4.8" fill="none" stroke-linecap="round" stroke-linejoin="round"/>
<path d="M987.2,191.9 L1001.9,195.5" stroke="#98aa2e" stroke-width="4.8" fill="none" stroke-linecap="round" stroke-linejoin="round"/>
<path d="M999.1,197.4 L1012.0,197.4" stroke="#98aa2e" stroke-width="4.8" fill="none" stroke-linecap="round" stroke-linejoin="round"/>
<path d="M1034.0,194.6 L1036.8,191.9" stroke="#98aa2e" stroke-width="4.8" fill="none" stroke-linecap="round" stroke-linejoin="round"/>
<path d="M1043.2,191.9 L1047.8,191.9" stroke="#98aa2e" stroke-width="4.8" fill="none" stroke-linecap="round" stroke-linejoin="round"/>
<circle cx="1055.1" cy="195.9" r="2.4" fill="#98aa2e"/>
<circle cx="1061.6" cy="195.9" r="2.4" fill="#98aa2e"/>
<circle cx="1068.0" cy="195.9" r="2.4" fill="#98aa2e"/>
<circle cx="1074.4" cy="195.9" r="2.4" fill="#98aa2e"/>
<circle cx="1080.8" cy="195.9" r="2.4" fill="#98aa2e"/>
<circle cx="1088.2" cy="195.9" r="2.4" fill="#98aa2e"/>
<path d="M1105.6,191.9 L1113.9,191.9" stroke="#98aa2e" stroke-width="4.8" fill="none" stroke-linecap="round" stroke-linejoin="round"/>
<path d="M1121.2,191.9 L1132.3,192.8" stroke="#98aa2e" stroke-width="4.8" fill="none" stroke-linecap="round" stroke-linejoin="round"/>
<path d="M955.9,202.9 L961.4,213.0" stroke="#98aa2e" stroke-width="4.8" fill="none" stroke-linecap="round" stroke-linejoin="round"/>
<circle cx="823.7" cy="219.0" r="2.4" fill="#98aa2e"/>
<circle cx="952.3" cy="218.5" r="2.4" fill="#98aa2e"/>
<circle cx="999.1" cy="219.0" r="2.4" fill="#98aa2e"/>
<circle cx="1012.9" cy="219.0" r="2.4" fill="#98aa2e"/>
<circle cx="1025.7" cy="219.0" r="2.4" fill="#98aa2e"/>
<circle cx="1035.8" cy="219.0" r="2.4" fill="#98aa2e"/>
<circle cx="1040.4" cy="213.9" r="2.4" fill="#98aa2e"/>
<circle cx="992.7" cy="213.9" r="2.4" fill="#98aa2e"/>
<path d="M854.0,219.0 L860.4,219.0" stroke="#98aa2e" stroke-width="4.8" fill="none" stroke-linecap="round" stroke-linejoin="round"/>
<path d="M871.4,219.0 L887.0,219.0" stroke="#98aa2e" stroke-width="4.8" fill="none" stroke-linecap="round" stroke-linejoin="round"/>
<path d="M898.1,219.0 L934.8,219.0" stroke="#98aa2e" stroke-width="4.8" fill="none" stroke-linecap="round" stroke-linejoin="round"/>
<path d="M941.2,216.6 L946.7,216.6" stroke="#98aa2e" stroke-width="4.8" fill="none" stroke-linecap="round" stroke-linejoin="round"/>
<path d="M965.1,219.0 L977.1,219.0" stroke="#98aa2e" stroke-width="5.5" fill="none" stroke-linecap="round" stroke-linejoin="round"/>
<path d="M987.2,219.4 L992.7,213.9" stroke="#98aa2e" stroke-width="4.8" fill="none" stroke-linecap="round" stroke-linejoin="round"/>
<path d="M1043.2,219.0 L1048.7,219.0" stroke="#98aa2e" stroke-width="4.8" fill="none" stroke-linecap="round" stroke-linejoin="round"/>
<path d="M1101.0,224.0 L1104.7,219.4 L1115.7,219.0" stroke="#98aa2e" stroke-width="4.8" fill="none" stroke-linecap="round" stroke-linejoin="round"/>
<path d="M1121.2,219.0 L1132.3,219.0" stroke="#98aa2e" stroke-width="4.8" fill="none" stroke-linecap="round" stroke-linejoin="round"/>
<circle cx="992.7" cy="232.3" r="2.4" fill="#98aa2e"/>
<circle cx="1006.4" cy="232.3" r="2.4" fill="#98aa2e"/>
<circle cx="1028.5" cy="233.2" r="2.4" fill="#98aa2e"/>
<circle cx="1034.9" cy="232.3" r="2.4" fill="#98aa2e"/>
<circle cx="1054.2" cy="228.6" r="2.4" fill="#98aa2e"/>
<circle cx="1097.4" cy="232.3" r="2.4" fill="#98aa2e"/>
<circle cx="1103.8" cy="232.3" r="2.4" fill="#98aa2e"/>
<circle cx="964.2" cy="236.9" r="2.4" fill="#98aa2e"/>
<circle cx="964.2" cy="252.5" r="2.4" fill="#98aa2e"/>
<circle cx="1018.4" cy="249.7" r="2.4" fill="#98aa2e"/>
<circle cx="1026.6" cy="247.0" r="2.4" fill="#98aa2e"/>
<circle cx="893.5" cy="258.0" r="2.4" fill="#98aa2e"/>
<path d="M1056.0,234.1 L1060.6,240.5" stroke="#98aa2e" stroke-width="4.8" fill="none" stroke-linecap="round" stroke-linejoin="round"/>
<path d="M1115.7,232.3 L1121.2,232.3" stroke="#98aa2e" stroke-width="4.8" fill="none" stroke-linecap="round" stroke-linejoin="round"/>
<path d="M1010.1,251.6 L1012.0,256.1" stroke="#98aa2e" stroke-width="4.8" fill="none" stroke-linecap="round" stroke-linejoin="round"/>
<path d="M831.9,234.1 L838.4,243.3 L844.8,258.9" stroke="#98aa2e" stroke-width="4.8" fill="none" stroke-linecap="round" stroke-linejoin="round"/>
<path d="M1140.0,19.2 L1455.0,19.2" stroke="#98aa2e" stroke-width="5.0" fill="none" stroke-linecap="round" stroke-linejoin="round"/>
<circle cx="1158.9" cy="18.3" r="4.0" fill="#87a34b"/>
<circle cx="1212.1" cy="18.3" r="4.0" fill="#87a34b"/>
<circle cx="1230.5" cy="18.3" r="3.5" fill="#98aa2e"/>
<circle cx="1311.3" cy="17.3" r="4.0" fill="#a9a722"/>
<circle cx="1143.3" cy="24.7" r="2.4" fill="#98aa2e"/>
<circle cx="1153.4" cy="24.7" r="2.4" fill="#98aa2e"/>
<circle cx="1193.8" cy="24.7" r="2.4" fill="#98aa2e"/>
<circle cx="1239.7" cy="24.7" r="2.4" fill="#98aa2e"/>
<circle cx="1288.4" cy="24.7" r="2.4" fill="#98aa2e"/>
<circle cx="1417.9" cy="24.7" r="2.4" fill="#98aa2e"/>
<circle cx="1425.2" cy="24.7" r="2.4" fill="#98aa2e"/>
<path d="M1162.6,23.8 L1166.2,25.6" stroke="#98aa2e" stroke-width="6.0" fill="none" stroke-linecap="round" stroke-linejoin="round"/>
<circle cx="1213.1" cy="25.6" r="3.2" fill="#87a34b"/>
<path d="M1147.9,35.7 L1144.2,40.3" stroke="#98aa2e" stroke-width="4.8" fill="none" stroke-linecap="round" stroke-linejoin="round"/>
<path d="M1142.3,43.1 L1142.3,54.1" stroke="#98aa2e" stroke-width="4.8" fill="none" stroke-linecap="round" stroke-linejoin="round"/>
<circle cx="1158.9" cy="37.6" r="3.5" fill="#a9a722"/>
<circle cx="1169.9" cy="37.6" r="2.4" fill="#98aa2e"/>
<circle cx="1195.6" cy="43.1" r="2.4" fill="#98aa2e"/>
<circle cx="1182.8" cy="47.7" r="2.4" fill="#98aa2e"/>
<circle cx="1187.4" cy="54.1" r="2.4" fill="#98aa2e"/>
<circle cx="1214.0" cy="54.1" r="2.4" fill="#98aa2e"/>
<circle cx="1294.8" cy="43.1" r="2.4" fill="#98aa2e"/>
<circle cx="1289.3" cy="54.1" r="2.4" fill="#98aa2e"/>
<circle cx="1320.5" cy="37.2" r="2.4" fill="#98aa2e"/>
<circle cx="1327.0" cy="37.6" r="2.4" fill="#98aa2e"/>
<circle cx="1323.3" cy="47.7" r="2.4" fill="#98aa2e"/>
<circle cx="1303.1" cy="54.1" r="2.4" fill="#98aa2e"/>
<circle cx="1357.3" cy="43.1" r="2.4" fill="#98aa2e"/>
<circle cx="1388.5" cy="47.7" r="2.4" fill="#98aa2e"/>
<circle cx="1404.1" cy="54.1" r="2.4" fill="#98aa2e"/>
<circle cx="1434.4" cy="43.1" r="2.4" fill="#98aa2e"/>
<circle cx="1440.8" cy="43.1" r="2.4" fill="#98aa2e"/>
<circle cx="1438.1" cy="54.1" r="2.4" fill="#98aa2e"/>
<path d="M1157.0,47.7 L1169.0,48.6" stroke="#98aa2e" stroke-width="6.0" fill="none" stroke-linecap="round" stroke-linejoin="round"/>
<circle cx="1190.1" cy="37.6" r="3.0" fill="#98aa2e"/>
<path d="M1191.9,47.7 L1193.8,52.2" stroke="#98aa2e" stroke-width="4.8" fill="none" stroke-linecap="round" stroke-linejoin="round"/>
<circle cx="1212.1" cy="47.7" r="3.5" fill="#a9a722"/>
<path d="M1218.6,37.6 L1223.2,35.7" stroke="#98aa2e" stroke-width="4.8" fill="none" stroke-linecap="round" stroke-linejoin="round"/>
<path d="M1221.3,43.1 L1228.7,43.1" stroke="#98aa2e" stroke-width="4.8" fill="none" stroke-linecap="round" stroke-linejoin="round"/>
<path d="M1221.3,47.7 L1234.2,47.7" stroke="#98aa2e" stroke-width="6.0" fill="none" stroke-linecap="round" stroke-linejoin="round"/>
<path d="M1221.3,54.1 L1234.2,54.1" stroke="#98aa2e" stroke-width="4.8" fill="none" stroke-linecap="round" stroke-linejoin="round"/>
<path d="M1240.6,43.1 L1239.7,47.7" stroke="#98aa2e" stroke-width="4.8" fill="none" stroke-linecap="round" stroke-linejoin="round"/>
<path d="M1249.8,43.1 L1256.2,47.7" stroke="#98aa2e" stroke-width="4.8" fill="none" stroke-linecap="round" stroke-linejoin="round"/>
<path d="M1252.6,54.1 L1247.0,54.1" stroke="#98aa2e" stroke-width="4.8" fill="none" stroke-linecap="round" stroke-linejoin="round"/>
<path d="M1261.7,43.1 L1263.6,47.7" stroke="#98aa2e" stroke-width="4.8" fill="none" stroke-linecap="round" stroke-linejoin="round"/>
<path d="M1286.5,37.6 L1291.1,37.6" stroke="#98aa2e" stroke-width="4.8" fill="none" stroke-linecap="round" stroke-linejoin="round"/>
<path d="M1306.7,37.6 L1311.3,40.3" stroke="#98aa2e" stroke-width="4.8" fill="none" stroke-linecap="round" stroke-linejoin="round"/>
<circle cx="1311.3" cy="52.2" r="3.2" fill="#87a34b"/>
<path d="M1328.8,54.1 L1341.6,54.1" stroke="#98aa2e" stroke-width="6.0" fill="none" stroke-linecap="round" stroke-linejoin="round"/>
<path d="M1367.4,45.8 L1368.3,52.2" stroke="#98aa2e" stroke-width="4.8" fill="none" stroke-linecap="round" stroke-linejoin="round"/>
<path d="M1412.4,37.6 L1428.9,37.6" stroke="#98aa2e" stroke-width="4.8" fill="none" stroke-linecap="round" stroke-linejoin="round"/>
<path d="M1410.5,43.1 L1425.2,43.1" stroke="#98aa2e" stroke-width="4.8" fill="none" stroke-linecap="round" stroke-linejoin="round"/>
<path d="M1415.1,47.7 L1424.3,47.7" stroke="#98aa2e" stroke-width="4.8" fill="none" stroke-linecap="round" stroke-linejoin="round"/>
<circle cx="1143.3" cy="94.1" r="2.4" fill="#98aa2e"/>
<circle cx="1215.8" cy="94.1" r="2.4" fill="#98aa2e"/>
<circle cx="1221.3" cy="90.5" r="2.4" fill="#98aa2e"/>
<circle cx="1224.1" cy="95.4" r="2.4" fill="#98aa2e"/>
<circle cx="1248.9" cy="94.1" r="2.4" fill="#98aa2e"/>
<circle cx="1261.7" cy="94.1" r="2.4" fill="#98aa2e"/>
<circle cx="1288.4" cy="82.6" r="2.4" fill="#98aa2e"/>
<circle cx="1376.6" cy="80.7" r="2.4" fill="#98aa2e"/>
<circle cx="1357.3" cy="94.1" r="2.4" fill="#98aa2e"/>
<circle cx="1411.5" cy="94.1" r="2.4" fill="#98aa2e"/>
<circle cx="1294.8" cy="151.1" r="2.4" fill="#98aa2e"/>
<circle cx="1440.8" cy="148.1" r="2.4" fill="#98aa2e"/>
<path d="M1135.0,173.1 L1153.4,173.1" stroke="#98aa2e" stroke-width="4.8" fill="none" stroke-linecap="round" stroke-linejoin="round"/>
<circle cx="1168.1" cy="179.9" r="2.4" fill="#98aa2e"/>
<circle cx="1181.8" cy="179.9" r="2.4" fill="#98aa2e"/>
<circle cx="1240.6" cy="173.1" r="2.4" fill="#98aa2e"/>
<circle cx="1219.5" cy="179.9" r="2.4" fill="#98aa2e"/>
<circle cx="1321.4" cy="179.9" r="2.4" fill="#98aa2e"/>
<circle cx="1343.5" cy="173.1" r="2.4" fill="#98aa2e"/>
<circle cx="1341.6" cy="179.9" r="2.4" fill="#98aa2e"/>
<circle cx="1367.4" cy="179.9" r="2.4" fill="#98aa2e"/>
<circle cx="1393.1" cy="173.1" r="2.4" fill="#98aa2e"/>
<circle cx="1407.8" cy="179.9" r="2.4" fill="#98aa2e"/>
<circle cx="1421.6" cy="173.1" r="2.4" fill="#98aa2e"/>
<circle cx="1423.4" cy="184.5" r="2.4" fill="#98aa2e"/>
<path d="M1193.8,173.1 L1210.3,173.1" stroke="#98aa2e" stroke-width="5.5" fill="none" stroke-linecap="round" stroke-linejoin="round"/>
<path d="M1216.7,173.1 L1235.1,173.1" stroke="#98aa2e" stroke-width="6.0" fill="none" stroke-linecap="round" stroke-linejoin="round"/>
<path d="M1229.6,179.9 L1240.6,179.9" stroke="#98aa2e" stroke-width="4.8" fill="none" stroke-linecap="round" stroke-linejoin="round"/>
<path d="M1250.7,170.7 L1259.9,173.1" stroke="#98aa2e" stroke-width="4.8" fill="none" stroke-linecap="round" stroke-linejoin="round"/>
<path d="M1266.3,173.1 L1275.5,173.1" stroke="#98aa2e" stroke-width="4.8" fill="none" stroke-linecap="round" stroke-linejoin="round"/>
<path d="M1287.5,173.1 L1306.7,173.1" stroke="#98aa2e" stroke-width="5.5" fill="none" stroke-linecap="round" stroke-linejoin="round"/>
<path d="M1312.3,173.1 L1329.7,173.1" stroke="#98aa2e" stroke-width="4.8" fill="none" stroke-linecap="round" stroke-linejoin="round"/>
<path d="M1318.7,169.8 L1318.7,176.2" stroke="#98aa2e" stroke-width="4.8" fill="none" stroke-linecap="round" stroke-linejoin="round"/>
<path d="M1286.5,179.9 L1293.0,179.9" stroke="#98aa2e" stroke-width="4.8" fill="none" stroke-linecap="round" stroke-linejoin="round"/>
<path d="M1355.4,173.1 L1383.9,173.1" stroke="#98aa2e" stroke-width="4.8" fill="none" stroke-linecap="round" stroke-linejoin="round"/>
<circle cx="1378.4" cy="179.9" r="3.2" fill="#98aa2e"/>
<path d="M1400.4,173.1 L1412.4,173.1" stroke="#98aa2e" stroke-width="4.8" fill="none" stroke-linecap="round" stroke-linejoin="round"/>
<path d="M1432.6,173.1 L1441.8,173.1" stroke="#98aa2e" stroke-width="4.8" fill="none" stroke-linecap="round" stroke-linejoin="round"/>
<path d="M1143.3,191.9 L1152.5,191.9" stroke="#98aa2e" stroke-width="4.8" fill="none" stroke-linecap="round" stroke-linejoin="round"/>
<path d="M1161.6,191.9 L1189.2,193.7" stroke="#98aa2e" stroke-width="5.5" fill="none" stroke-linecap="round" stroke-linejoin="round"/>
<circle cx="1168.1" cy="194.6" r="2.4" fill="#98aa2e"/>
<circle cx="1206.6" cy="193.7" r="2.4" fill="#98aa2e"/>
<circle cx="1219.5" cy="197.4" r="2.4" fill="#98aa2e"/>
<circle cx="1228.7" cy="197.4" r="2.4" fill="#98aa2e"/>
<circle cx="1235.1" cy="197.4" r="2.4" fill="#98aa2e"/>
<circle cx="1258.1" cy="194.6" r="2.4" fill="#98aa2e"/>
<circle cx="1286.5" cy="197.4" r="2.4" fill="#98aa2e"/>
<circle cx="1341.6" cy="197.4" r="2.4" fill="#98aa2e"/>
<circle cx="1393.1" cy="191.9" r="2.4" fill="#98aa2e"/>
<circle cx="1407.8" cy="197.4" r="2.4" fill="#98aa2e"/>
<circle cx="1418.8" cy="191.9" r="2.4" fill="#98aa2e"/>
<circle cx="1424.3" cy="198.3" r="2.4" fill="#98aa2e"/>
<circle cx="1439.0" cy="197.4" r="2.4" fill="#98aa2e"/>
<path d="M1223.2,191.9 L1234.2,191.9" stroke="#8ba544" stroke-width="7.0" fill="none" stroke-linecap="round" stroke-linejoin="round"/>
<path d="M1235.1,193.7 L1248.0,193.7" stroke="#98aa2e" stroke-width="4.8" fill="none" stroke-linecap="round" stroke-linejoin="round"/>
<path d="M1256.2,190.0 L1265.4,192.8" stroke="#98aa2e" stroke-width="4.8" fill="none" stroke-linecap="round" stroke-linejoin="round"/>
<path d="M1289.3,191.9 L1329.7,192.8" stroke="#98aa2e" stroke-width="5.5" fill="none" stroke-linecap="round" stroke-linejoin="round"/>
<path d="M1358.2,191.9 L1358.2,194.6" stroke="#98aa2e" stroke-width="4.8" fill="none" stroke-linecap="round" stroke-linejoin="round"/>
<path d="M1367.4,191.9 L1388.5,192.8" stroke="#98aa2e" stroke-width="5.5" fill="none" stroke-linecap="round" stroke-linejoin="round"/>
<path d="M1404.1,191.9 L1412.4,193.7" stroke="#98aa2e" stroke-width="4.8" fill="none" stroke-linecap="round" stroke-linejoin="round"/>
<path d="M1432.6,191.9 L1447.3,191.9" stroke="#98aa2e" stroke-width="4.8" fill="none" stroke-linecap="round" stroke-linejoin="round"/>
<path d="M1142.3,223.1 L1144.2,218.5 L1151.5,219.0" stroke="#98aa2e" stroke-width="4.8" fill="none" stroke-linecap="round" stroke-linejoin="round"/>
<circle cx="1162.6" cy="219.0" r="2.4" fill="#98aa2e"/>
<circle cx="1155.2" cy="230.4" r="2.4" fill="#98aa2e"/>
<circle cx="1216.7" cy="224.0" r="2.4" fill="#98aa2e"/>
<circle cx="1216.7" cy="229.5" r="2.4" fill="#98aa2e"/>
<circle cx="1235.1" cy="226.8" r="2.4" fill="#98aa2e"/>
<circle cx="1248.9" cy="232.3" r="2.4" fill="#98aa2e"/>
<circle cx="1261.7" cy="232.3" r="2.4" fill="#98aa2e"/>
<circle cx="1300.3" cy="223.1" r="2.4" fill="#98aa2e"/>
<circle cx="1294.8" cy="235.9" r="2.4" fill="#98aa2e"/>
<circle cx="1304.0" cy="232.3" r="2.4" fill="#98aa2e"/>
<circle cx="1313.2" cy="232.3" r="2.4" fill="#98aa2e"/>
<circle cx="1359.1" cy="219.0" r="2.4" fill="#98aa2e"/>
<circle cx="1356.3" cy="224.0" r="2.4" fill="#98aa2e"/>
<circle cx="1358.2" cy="231.3" r="2.4" fill="#98aa2e"/>
<circle cx="1375.6" cy="224.0" r="2.4" fill="#98aa2e"/>
<circle cx="1374.7" cy="232.3" r="2.4" fill="#98aa2e"/>
<circle cx="1405.9" cy="216.6" r="2.4" fill="#98aa2e"/>
<circle cx="1440.8" cy="211.7" r="2.4" fill="#98aa2e"/>
<circle cx="1441.8" cy="234.1" r="2.4" fill="#98aa2e"/>
<circle cx="1414.2" cy="238.7" r="2.4" fill="#98aa2e"/>
<circle cx="1426.1" cy="238.7" r="2.4" fill="#98aa2e"/>
<circle cx="1325.1" cy="258.9" r="2.4" fill="#98aa2e"/>
<circle cx="1430.7" cy="258.9" r="2.4" fill="#98aa2e"/>
<path d="M1169.9,215.7 L1177.2,219.0 L1184.6,219.0" stroke="#98aa2e" stroke-width="4.8" fill="none" stroke-linecap="round" stroke-linejoin="round"/>
<path d="M1223.2,219.0 L1235.1,219.0" stroke="#98aa2e" stroke-width="6.0" fill="none" stroke-linecap="round" stroke-linejoin="round"/>
<path d="M1253.5,215.7 L1265.4,219.4" stroke="#98aa2e" stroke-width="4.8" fill="none" stroke-linecap="round" stroke-linejoin="round"/>
<path d="M1289.3,219.0 L1301.2,219.0" stroke="#98aa2e" stroke-width="4.8" fill="none" stroke-linecap="round" stroke-linejoin="round"/>
<path d="M1313.2,219.0 L1327.0,219.0" stroke="#98aa2e" stroke-width="4.8" fill="none" stroke-linecap="round" stroke-linejoin="round"/>
<path d="M1367.4,219.0 L1397.7,219.0" stroke="#98aa2e" stroke-width="5.5" fill="none" stroke-linecap="round" stroke-linejoin="round"/>
<path d="M1417.0,219.0 L1422.5,219.0" stroke="#98aa2e" stroke-width="4.8" fill="none" stroke-linecap="round" stroke-linejoin="round"/>
<path d="M1432.6,219.0 L1446.4,219.0" stroke="#98aa2e" stroke-width="4.8" fill="none" stroke-linecap="round" stroke-linejoin="round"/>
<path d="M1455.0,19.2 L1549.2,19.2" stroke="#98aa2e" stroke-width="5.0" fill="none" stroke-linecap="round" stroke-linejoin="round"/>
<circle cx="1514.3" cy="18.3" r="4.0" fill="#87a34b"/>
<circle cx="1479.4" cy="24.7" r="2.4" fill="#98aa2e"/>
<circle cx="1504.2" cy="24.7" r="2.4" fill="#98aa2e"/>
<circle cx="1549.2" cy="24.7" r="2.4" fill="#98aa2e"/>
<path d="M1459.2,37.6 L1459.2,52.2" stroke="#98aa2e" stroke-width="4.8" fill="none" stroke-linecap="round" stroke-linejoin="round"/>
<circle cx="1466.5" cy="37.6" r="2.4" fill="#98aa2e"/>
<circle cx="1517.0" cy="37.6" r="2.4" fill="#98aa2e"/>
<circle cx="1538.2" cy="37.6" r="2.4" fill="#98aa2e"/>
<circle cx="1545.5" cy="43.1" r="2.4" fill="#98aa2e"/>
<circle cx="1549.2" cy="47.7" r="2.4" fill="#98aa2e"/>
<circle cx="1484.0" cy="52.2" r="2.4" fill="#98aa2e"/>
<circle cx="1457.3" cy="52.2" r="2.4" fill="#98aa2e"/>
<path d="M1486.7,37.6 L1494.1,38.5" stroke="#98aa2e" stroke-width="4.8" fill="none" stroke-linecap="round" stroke-linejoin="round"/>
<path d="M1495.9,42.1 L1498.7,42.1" stroke="#98aa2e" stroke-width="4.8" fill="none" stroke-linecap="round" stroke-linejoin="round"/>
<circle cx="1507.9" cy="46.7" r="3.2" fill="#98aa2e"/>
<circle cx="1515.2" cy="54.1" r="4.0" fill="#b4a51a"/>
<path d="M1528.1,35.7 L1529.9,37.6" stroke="#98aa2e" stroke-width="4.8" fill="none" stroke-linecap="round" stroke-linejoin="round"/>
<path d="M1557.5,47.7 L1561.1,47.7" stroke="#98aa2e" stroke-width="5.5" fill="none" stroke-linecap="round" stroke-linejoin="round"/>
<path d="M1541.8,52.2 L1543.7,54.1" stroke="#98aa2e" stroke-width="4.8" fill="none" stroke-linecap="round" stroke-linejoin="round"/>
<path d="M1464.7,54.1 L1469.3,54.1" stroke="#98aa2e" stroke-width="4.8" fill="none" stroke-linecap="round" stroke-linejoin="round"/>
<path d="M1471.1,90.8 L1476.6,90.8" stroke="#98aa2e" stroke-width="4.8" fill="none" stroke-linecap="round" stroke-linejoin="round"/>
<path d="M1494.1,110.1 L1498.7,110.1" stroke="#98aa2e" stroke-width="4.8" fill="none" stroke-linecap="round" stroke-linejoin="round"/>
<path d="M1461.0,170.7 L1466.5,173.1" stroke="#98aa2e" stroke-width="4.8" fill="none" stroke-linecap="round" stroke-linejoin="round"/>
<circle cx="1473.0" cy="173.1" r="2.4" fill="#98aa2e"/>
<circle cx="1492.2" cy="168.9" r="2.4" fill="#98aa2e"/>
<circle cx="1493.2" cy="179.9" r="2.4" fill="#98aa2e"/>
<circle cx="1527.1" cy="179.9" r="2.4" fill="#98aa2e"/>
<path d="M1479.4,173.1 L1483.1,173.1" stroke="#98aa2e" stroke-width="4.8" fill="none" stroke-linecap="round" stroke-linejoin="round"/>
<path d="M1495.0,173.1 L1510.6,173.1" stroke="#98aa2e" stroke-width="4.8" fill="none" stroke-linecap="round" stroke-linejoin="round"/>
<path d="M1527.1,173.1 L1540.0,173.1" stroke="#98aa2e" stroke-width="4.8" fill="none" stroke-linecap="round" stroke-linejoin="round"/>
<circle cx="1541.8" cy="170.7" r="3.0" fill="#98aa2e"/>
<circle cx="1457.3" cy="190.0" r="2.4" fill="#98aa2e"/>
<circle cx="1462.9" cy="191.9" r="2.4" fill="#98aa2e"/>
<circle cx="1483.1" cy="191.9" r="2.4" fill="#98aa2e"/>
<circle cx="1494.1" cy="197.4" r="2.4" fill="#98aa2e"/>
<circle cx="1495.9" cy="191.9" r="2.4" fill="#98aa2e"/>
<circle cx="1517.0" cy="194.6" r="2.4" fill="#98aa2e"/>
<circle cx="1527.1" cy="197.4" r="2.4" fill="#98aa2e"/>
<path d="M1467.5,191.9 L1477.6,194.6" stroke="#98aa2e" stroke-width="6.0" fill="none" stroke-linecap="round" stroke-linejoin="round"/>
<circle cx="1506.0" cy="194.6" r="5.5" fill="#b6a517"/>
<path d="M1510.6,191.9 L1514.3,191.9" stroke="#98aa2e" stroke-width="4.8" fill="none" stroke-linecap="round" stroke-linejoin="round"/>
<path d="M1521.6,191.9 L1540.0,191.9" stroke="#98aa2e" stroke-width="4.8" fill="none" stroke-linecap="round" stroke-linejoin="round"/>
<path d="M1543.7,197.4 L1549.2,190.9" stroke="#98aa2e" stroke-width="4.8" fill="none" stroke-linecap="round" stroke-linejoin="round"/>
<path d="M1462.9,213.9 L1461.9,219.4" stroke="#98aa2e" stroke-width="4.8" fill="none" stroke-linecap="round" stroke-linejoin="round"/>
<path d="M1470.2,216.6 L1475.7,219.4" stroke="#98aa2e" stroke-width="4.8" fill="none" stroke-linecap="round" stroke-linejoin="round"/>
<circle cx="1483.1" cy="219.0" r="2.4" fill="#98aa2e"/>
<circle cx="1495.9" cy="219.0" r="2.4" fill="#98aa2e"/>
<circle cx="1502.4" cy="219.0" r="2.4" fill="#98aa2e"/>
<circle cx="1463.8" cy="229.5" r="2.4" fill="#98aa2e"/>
<circle cx="1492.2" cy="232.3" r="2.4" fill="#98aa2e"/>
<circle cx="1510.6" cy="230.4" r="2.4" fill="#98aa2e"/>
<circle cx="1542.8" cy="232.3" r="2.4" fill="#98aa2e"/>
<path d="M1508.8,219.0 L1513.4,219.0" stroke="#98aa2e" stroke-width="4.8" fill="none" stroke-linecap="round" stroke-linejoin="round"/>
<path d="M1520.7,219.0 L1540.0,219.0" stroke="#98aa2e" stroke-width="4.8" fill="none" stroke-linecap="round" stroke-linejoin="round"/>
<path d="M1545.5,216.6 L1546.4,224.0" stroke="#98aa2e" stroke-width="4.8" fill="none" stroke-linecap="round" stroke-linejoin="round"/>
<path d="M1529.9,232.3 L1532.7,231.3" stroke="#98aa2e" stroke-width="4.8" fill="none" stroke-linecap="round" stroke-linejoin="round"/>
<path d="M325.9,257.9 L329.6,262.3 L338.8,275.2 L351.6,291.7 L362.7,310.1 L373.7,324.8 L379.2,335.8 L388.4,348.7 L392.1,359.7 L404.9,370.7 L417.8,387.3 L423.3,398.3 L432.5,409.3 L441.7,414.8 L447.2,424.0 L461.9,435.0 L465.5,440.5 L471.0,453.4 L476.6,468.1 L483.9,477.3 L493.1,492.0 L510.0,501.1" stroke="#98aa2e" stroke-width="5.2" fill="none" stroke-linecap="round" stroke-linejoin="round"/>
<circle cx="334.2" cy="259.6" r="2.4" fill="#98aa2e"/>
<circle cx="342.5" cy="272.5" r="2.4" fill="#98aa2e"/>
<circle cx="364.5" cy="286.2" r="2.4" fill="#98aa2e"/>
<circle cx="366.3" cy="292.7" r="2.4" fill="#98aa2e"/>
<circle cx="367.3" cy="302.4" r="2.4" fill="#98aa2e"/>
<circle cx="375.5" cy="302.4" r="2.4" fill="#98aa2e"/>
<circle cx="370.9" cy="311.0" r="2.4" fill="#98aa2e"/>
<circle cx="375.5" cy="323.9" r="2.4" fill="#98aa2e"/>
<circle cx="387.5" cy="311.0" r="2.4" fill="#98aa2e"/>
<circle cx="392.1" cy="326.6" r="2.4" fill="#98aa2e"/>
<circle cx="397.6" cy="327.6" r="2.4" fill="#98aa2e"/>
<circle cx="400.3" cy="295.4" r="2.4" fill="#98aa2e"/>
<circle cx="432.5" cy="283.5" r="2.4" fill="#98aa2e"/>
<circle cx="438.0" cy="274.3" r="2.4" fill="#98aa2e"/>
<circle cx="448.1" cy="271.5" r="2.4" fill="#98aa2e"/>
<circle cx="443.5" cy="295.4" r="2.4" fill="#98aa2e"/>
<circle cx="464.6" cy="276.1" r="2.4" fill="#98aa2e"/>
<circle cx="471.0" cy="271.5" r="2.4" fill="#98aa2e"/>
<circle cx="461.9" cy="283.5" r="2.4" fill="#98aa2e"/>
<circle cx="468.3" cy="300.9" r="2.4" fill="#98aa2e"/>
<circle cx="481.1" cy="294.5" r="2.4" fill="#98aa2e"/>
<circle cx="483.0" cy="278.9" r="2.4" fill="#98aa2e"/>
<circle cx="510.0" cy="302.4" r="2.4" fill="#98aa2e"/>
<path d="M387.5,278.0 L386.5,286.2" stroke="#98aa2e" stroke-width="4.8" fill="none" stroke-linecap="round" stroke-linejoin="round"/>
<circle cx="419.6" cy="276.1" r="3.0" fill="#98aa2e"/>
<circle cx="426.0" cy="294.5" r="3.0" fill="#98aa2e"/>
<path d="M467.4,292.7 L471.0,295.4" stroke="#98aa2e" stroke-width="4.8" fill="none" stroke-linecap="round" stroke-linejoin="round"/>
<path d="M493.1,295.4 L498.6,295.4" stroke="#98aa2e" stroke-width="5.5" fill="none" stroke-linecap="round" stroke-linejoin="round"/>
<path d="M492.2,303.1 L496.8,301.8" stroke="#98aa2e" stroke-width="4.8" fill="none" stroke-linecap="round" stroke-linejoin="round"/>
<circle cx="425.1" cy="318.9" r="2.4" fill="#98aa2e"/>
<circle cx="432.5" cy="323.0" r="2.4" fill="#98aa2e"/>
<circle cx="418.7" cy="329.4" r="2.4" fill="#98aa2e"/>
<circle cx="457.3" cy="318.9" r="2.4" fill="#98aa2e"/>
<circle cx="390.2" cy="345.0" r="2.4" fill="#98aa2e"/>
<circle cx="410.4" cy="359.7" r="2.4" fill="#98aa2e"/>
<circle cx="432.5" cy="355.1" r="2.4" fill="#98aa2e"/>
<circle cx="504.1" cy="345.0" r="2.4" fill="#98aa2e"/>
<circle cx="505.9" cy="351.4" r="2.4" fill="#98aa2e"/>
<path d="M437.1,333.1 L438.0,335.8" stroke="#98aa2e" stroke-width="4.8" fill="none" stroke-linecap="round" stroke-linejoin="round"/>
<path d="M438.9,324.8 L457.3,326.6" stroke="#98aa2e" stroke-width="6.0" fill="none" stroke-linecap="round" stroke-linejoin="round"/>
<path d="M401.2,363.0 L413.2,363.0" stroke="#98aa2e" stroke-width="5.5" fill="none" stroke-linecap="round" stroke-linejoin="round"/>
<circle cx="428.8" cy="363.0" r="3.0" fill="#98aa2e"/>
<path d="M500.4,351.4 L502.3,355.1" stroke="#98aa2e" stroke-width="4.8" fill="none" stroke-linecap="round" stroke-linejoin="round"/>
<circle cx="485.7" cy="381.7" r="3.0" fill="#98aa2e"/>
<circle cx="427.9" cy="387.3" r="2.4" fill="#98aa2e"/>
<circle cx="432.5" cy="392.8" r="2.4" fill="#98aa2e"/>
<circle cx="478.4" cy="395.5" r="2.4" fill="#98aa2e"/>
<circle cx="495.8" cy="392.8" r="2.4" fill="#98aa2e"/>
<circle cx="508.7" cy="392.8" r="2.4" fill="#98aa2e"/>
<circle cx="447.2" cy="403.8" r="2.4" fill="#98aa2e"/>
<circle cx="458.2" cy="403.8" r="2.4" fill="#98aa2e"/>
<circle cx="495.8" cy="407.5" r="2.4" fill="#98aa2e"/>
<circle cx="507.8" cy="407.5" r="2.4" fill="#98aa2e"/>
<circle cx="449.0" cy="418.5" r="2.4" fill="#98aa2e"/>
<circle cx="454.5" cy="426.7" r="2.4" fill="#98aa2e"/>
<circle cx="483.0" cy="426.7" r="2.4" fill="#98aa2e"/>
<circle cx="477.5" cy="435.0" r="2.4" fill="#98aa2e"/>
<circle cx="506.9" cy="452.5" r="2.4" fill="#98aa2e"/>
<circle cx="508.7" cy="459.8" r="2.4" fill="#98aa2e"/>
<circle cx="498.6" cy="487.9" r="2.4" fill="#98aa2e"/>
<path d="M498.6,396.4 L510.0,396.4" stroke="#98aa2e" stroke-width="4.8" fill="none" stroke-linecap="round" stroke-linejoin="round"/>
<path d="M433.4,411.1 L440.7,413.0" stroke="#98aa2e" stroke-width="5.5" fill="none" stroke-linecap="round" stroke-linejoin="round"/>
<circle cx="516.4" cy="260.0" r="2.4" fill="#98aa2e"/>
<circle cx="550.9" cy="268.8" r="2.4" fill="#98aa2e"/>
<circle cx="514.6" cy="289.3" r="2.4" fill="#98aa2e"/>
<circle cx="543.6" cy="309.7" r="2.4" fill="#98aa2e"/>
<circle cx="558.3" cy="324.8" r="2.4" fill="#98aa2e"/>
<circle cx="639.1" cy="269.7" r="2.4" fill="#98aa2e"/>
<circle cx="645.5" cy="262.3" r="2.4" fill="#98aa2e"/>
<circle cx="663.0" cy="285.7" r="2.4" fill="#98aa2e"/>
<circle cx="664.8" cy="316.5" r="2.4" fill="#98aa2e"/>
<circle cx="788.8" cy="255.9" r="2.4" fill="#98aa2e"/>
<circle cx="810.8" cy="259.6" r="2.4" fill="#98aa2e"/>
<path d="M572.0,276.1 L573.0,278.9" stroke="#98aa2e" stroke-width="4.8" fill="none" stroke-linecap="round" stroke-linejoin="round"/>
<circle cx="538.1" cy="288.1" r="3.0" fill="#98aa2e"/>
<path d="M520.6,303.1 L536.2,303.1" stroke="#98aa2e" stroke-width="6.0" fill="none" stroke-linecap="round" stroke-linejoin="round"/>
<path d="M510.5,301.8 L515.1,307.4" stroke="#98aa2e" stroke-width="4.8" fill="none" stroke-linecap="round" stroke-linejoin="round"/>
<path d="M536.2,299.1 L536.2,307.4" stroke="#98aa2e" stroke-width="4.8" fill="none" stroke-linecap="round" stroke-linejoin="round"/>
<path d="M581.2,298.2 L584.9,299.5" stroke="#98aa2e" stroke-width="4.8" fill="none" stroke-linecap="round" stroke-linejoin="round"/>
<path d="M637.3,257.8 L644.6,266.9" stroke="#98aa2e" stroke-width="5.5" fill="none" stroke-linecap="round" stroke-linejoin="round"/>
<path d="M520.6,335.8 L527.0,345.0" stroke="#98aa2e" stroke-width="4.8" fill="none" stroke-linecap="round" stroke-linejoin="round"/>
<circle cx="505.9" cy="351.4" r="2.4" fill="#98aa2e"/>
<circle cx="549.1" cy="358.2" r="2.4" fill="#98aa2e"/>
<circle cx="516.4" cy="360.1" r="2.4" fill="#98aa2e"/>
<circle cx="575.7" cy="345.0" r="2.4" fill="#98aa2e"/>
<circle cx="665.7" cy="379.9" r="2.4" fill="#98aa2e"/>
<circle cx="723.6" cy="409.7" r="2.4" fill="#98aa2e"/>
<circle cx="730.0" cy="454.3" r="2.4" fill="#98aa2e"/>
<circle cx="555.5" cy="350.2" r="3.0" fill="#98aa2e"/>
<circle cx="614.3" cy="341.3" r="3.0" fill="#98aa2e"/>
<circle cx="608.8" cy="359.3" r="3.0" fill="#98aa2e"/>
<path d="M666.6,363.4 L672.2,379.0" stroke="#98aa2e" stroke-width="5.2" fill="none" stroke-linecap="round" stroke-linejoin="round"/>
<path d="M674.0,409.3 L678.6,422.2 L680.4,431.3" stroke="#98aa2e" stroke-width="4.8" fill="none" stroke-linecap="round" stroke-linejoin="round"/>
<path d="M682.3,443.3 L685.0,450.6" stroke="#98aa2e" stroke-width="4.8" fill="none" stroke-linecap="round" stroke-linejoin="round"/>
<circle cx="685.9" cy="457.1" r="2.4" fill="#98aa2e"/>
<circle cx="686.9" cy="469.0" r="2.4" fill="#98aa2e"/>
<circle cx="689.6" cy="482.8" r="2.4" fill="#98aa2e"/>
<circle cx="692.4" cy="498.4" r="2.4" fill="#98aa2e"/>
<circle cx="691.4" cy="503.9" r="2.4" fill="#98aa2e"/>
<path d="M820.0,324.8 L825.0,324.8" stroke="#98aa2e" stroke-width="4.8" fill="none" stroke-linecap="round" stroke-linejoin="round"/>
<circle cx="796.7" cy="350.0" r="2.4" fill="#98aa2e"/>
<circle cx="790.6" cy="380.8" r="2.4" fill="#98aa2e"/>
<circle cx="809.0" cy="395.0" r="2.4" fill="#98aa2e"/>
<circle cx="819.1" cy="407.8" r="2.4" fill="#98aa2e"/>
<path d="M795.2,355.7 L802.6,355.7" stroke="#98aa2e" stroke-width="5.5" fill="none" stroke-linecap="round" stroke-linejoin="round"/>
<circle cx="817.3" cy="356.9" r="3.0" fill="#98aa2e"/>
<circle cx="795.2" cy="395.0" r="3.0" fill="#98aa2e"/>
<path d="M815.4,395.0 L820.0,391.8" stroke="#98aa2e" stroke-width="4.8" fill="none" stroke-linecap="round" stroke-linejoin="round"/>
<circle cx="507.8" cy="392.8" r="2.4" fill="#98aa2e"/>
<circle cx="534.4" cy="389.1" r="2.4" fill="#98aa2e"/>
<circle cx="533.5" cy="395.0" r="2.4" fill="#98aa2e"/>
<circle cx="508.7" cy="407.8" r="2.4" fill="#98aa2e"/>
<circle cx="557.4" cy="407.8" r="2.4" fill="#98aa2e"/>
<circle cx="562.9" cy="406.0" r="2.4" fill="#98aa2e"/>
<circle cx="569.7" cy="413.3" r="2.4" fill="#98aa2e"/>
<circle cx="518.2" cy="438.7" r="2.4" fill="#98aa2e"/>
<circle cx="534.4" cy="440.5" r="2.4" fill="#98aa2e"/>
<circle cx="556.8" cy="453.0" r="2.4" fill="#98aa2e"/>
<circle cx="572.6" cy="452.5" r="2.4" fill="#98aa2e"/>
<circle cx="647.4" cy="461.1" r="2.4" fill="#98aa2e"/>
<path d="M553.7,390.9 L558.3,393.1" stroke="#98aa2e" stroke-width="4.8" fill="none" stroke-linecap="round" stroke-linejoin="round"/>
<path d="M559.2,425.8 L558.3,428.6" stroke="#98aa2e" stroke-width="4.8" fill="none" stroke-linecap="round" stroke-linejoin="round"/>
<path d="M510.5,460.4 L514.2,460.4" stroke="#98aa2e" stroke-width="5.5" fill="none" stroke-linecap="round" stroke-linejoin="round"/>
<path d="M795.2,429.5 L801.7,429.5" stroke="#98aa2e" stroke-width="7.0" fill="none" stroke-linecap="round" stroke-linejoin="round"/>
<circle cx="810.8" cy="429.5" r="3.0" fill="#98aa2e"/>
<circle cx="820.0" cy="428.6" r="3.0" fill="#98aa2e"/>
<circle cx="798.9" cy="445.1" r="2.4" fill="#98aa2e"/>
<circle cx="795.2" cy="453.0" r="2.4" fill="#98aa2e"/>
<circle cx="820.9" cy="453.0" r="2.4" fill="#98aa2e"/>
<circle cx="512.7" cy="491.0" r="2.4" fill="#98aa2e"/>
<circle cx="537.1" cy="491.0" r="2.4" fill="#98aa2e"/>
<path d="M510.0,501.1 L517.9,505.0" stroke="#98aa2e" stroke-width="5.2" fill="none" stroke-linecap="round" stroke-linejoin="round"/>
<circle cx="1004.6" cy="268.8" r="2.4" fill="#98aa2e"/>
<circle cx="1002.8" cy="274.3" r="2.4" fill="#98aa2e"/>
<circle cx="1005.5" cy="279.8" r="2.4" fill="#98aa2e"/>
<circle cx="1032.2" cy="270.6" r="2.4" fill="#98aa2e"/>
<circle cx="1113.9" cy="267.9" r="2.4" fill="#98aa2e"/>
<circle cx="1126.8" cy="276.1" r="2.4" fill="#98aa2e"/>
<circle cx="829.2" cy="297.6" r="2.4" fill="#98aa2e"/>
<circle cx="865.9" cy="295.8" r="2.4" fill="#98aa2e"/>
<circle cx="910.0" cy="295.8" r="2.4" fill="#98aa2e"/>
<circle cx="931.1" cy="295.8" r="2.4" fill="#98aa2e"/>
<circle cx="1007.4" cy="295.8" r="2.4" fill="#98aa2e"/>
<circle cx="1034.0" cy="303.1" r="2.4" fill="#98aa2e"/>
<circle cx="1109.3" cy="302.4" r="2.4" fill="#98aa2e"/>
<circle cx="1124.0" cy="303.1" r="2.4" fill="#98aa2e"/>
<path d="M876.9,295.8 L893.5,295.8" stroke="#98aa2e" stroke-width="4.8" fill="none" stroke-linecap="round" stroke-linejoin="round"/>
<path d="M872.4,301.8 L873.3,306.1" stroke="#98aa2e" stroke-width="4.8" fill="none" stroke-linecap="round" stroke-linejoin="round"/>
<circle cx="879.7" cy="301.3" r="2.4" fill="#98aa2e"/>
<circle cx="890.7" cy="318.9" r="2.4" fill="#98aa2e"/>
<circle cx="931.1" cy="315.2" r="2.4" fill="#98aa2e"/>
<circle cx="848.5" cy="330.3" r="2.4" fill="#98aa2e"/>
<circle cx="865.9" cy="330.3" r="2.4" fill="#98aa2e"/>
<circle cx="899.9" cy="327.6" r="2.4" fill="#98aa2e"/>
<circle cx="928.4" cy="331.2" r="2.4" fill="#98aa2e"/>
<circle cx="1000.9" cy="319.3" r="2.4" fill="#98aa2e"/>
<circle cx="1000.9" cy="328.5" r="2.4" fill="#98aa2e"/>
<circle cx="1007.4" cy="326.6" r="2.4" fill="#98aa2e"/>
<circle cx="1042.3" cy="327.6" r="2.4" fill="#98aa2e"/>
<circle cx="872.4" cy="315.2" r="3.0" fill="#98aa2e"/>
<circle cx="1015.6" cy="328.5" r="3.0" fill="#98aa2e"/>
<path d="M946.7,315.2 L946.7,319.3" stroke="#98aa2e" stroke-width="4.8" fill="none" stroke-linecap="round" stroke-linejoin="round"/>
<path d="M820.9,324.8 L825.9,324.8" stroke="#98aa2e" stroke-width="4.8" fill="none" stroke-linecap="round" stroke-linejoin="round"/>
<path d="M967.9,332.1 L973.4,332.1" stroke="#98aa2e" stroke-width="6.0" fill="none" stroke-linecap="round" stroke-linejoin="round"/>
<path d="M831.0,335.8 L836.5,343.2" stroke="#98aa2e" stroke-width="5.5" fill="none" stroke-linecap="round" stroke-linejoin="round"/>
<path d="M1055.1,335.8 L1060.6,343.2" stroke="#98aa2e" stroke-width="5.5" fill="none" stroke-linecap="round" stroke-linejoin="round"/>
<path d="M826.4,351.4 L826.4,356.0" stroke="#98aa2e" stroke-width="4.8" fill="none" stroke-linecap="round" stroke-linejoin="round"/>
<path d="M859.5,357.9 L864.1,358.2" stroke="#98aa2e" stroke-width="5.0" fill="none" stroke-linecap="round" stroke-linejoin="round"/>
<circle cx="862.2" cy="350.0" r="2.4" fill="#98aa2e"/>
<circle cx="871.4" cy="358.2" r="2.4" fill="#98aa2e"/>
<circle cx="888.0" cy="358.2" r="2.4" fill="#98aa2e"/>
<circle cx="904.5" cy="358.2" r="2.4" fill="#98aa2e"/>
<circle cx="954.1" cy="351.8" r="2.4" fill="#98aa2e"/>
<circle cx="991.7" cy="349.0" r="2.4" fill="#98aa2e"/>
<circle cx="998.2" cy="350.9" r="2.4" fill="#98aa2e"/>
<circle cx="1014.7" cy="357.3" r="2.4" fill="#98aa2e"/>
<circle cx="1031.2" cy="364.8" r="2.4" fill="#98aa2e"/>
<circle cx="987.2" cy="363.0" r="2.4" fill="#98aa2e"/>
<circle cx="1097.4" cy="363.0" r="2.4" fill="#98aa2e"/>
<circle cx="1124.9" cy="363.0" r="2.4" fill="#98aa2e"/>
<circle cx="1130.4" cy="345.0" r="2.4" fill="#98aa2e"/>
<path d="M1128.6,352.4 L1130.4,358.8" stroke="#98aa2e" stroke-width="4.8" fill="none" stroke-linecap="round" stroke-linejoin="round"/>
<path d="M978.0,372.6 L987.2,372.6" stroke="#98aa2e" stroke-width="5.5" fill="none" stroke-linecap="round" stroke-linejoin="round"/>
<path d="M1045.0,375.3 L1050.5,375.3" stroke="#98aa2e" stroke-width="4.8" fill="none" stroke-linecap="round" stroke-linejoin="round"/>
<circle cx="915.5" cy="375.3" r="2.4" fill="#98aa2e"/>
<circle cx="914.6" cy="381.7" r="2.4" fill="#98aa2e"/>
<circle cx="938.5" cy="381.7" r="2.4" fill="#98aa2e"/>
<circle cx="820.9" cy="391.8" r="2.4" fill="#98aa2e"/>
<circle cx="869.6" cy="395.5" r="2.4" fill="#98aa2e"/>
<circle cx="909.6" cy="397.5" r="2.4" fill="#98aa2e"/>
<circle cx="991.7" cy="393.7" r="2.4" fill="#98aa2e"/>
<circle cx="1040.4" cy="394.6" r="2.4" fill="#98aa2e"/>
<circle cx="1039.5" cy="402.3" r="2.4" fill="#98aa2e"/>
<circle cx="1140.0" cy="390.0" r="2.4" fill="#98aa2e"/>
<circle cx="820.9" cy="407.5" r="2.4" fill="#98aa2e"/>
<circle cx="907.8" cy="407.8" r="2.4" fill="#98aa2e"/>
<circle cx="953.7" cy="409.7" r="2.4" fill="#98aa2e"/>
<circle cx="908.2" cy="392.4" r="3.0" fill="#98aa2e"/>
<path d="M941.2,395.0 L944.9,395.0" stroke="#98aa2e" stroke-width="5.5" fill="none" stroke-linecap="round" stroke-linejoin="round"/>
<circle cx="898.4" cy="420.0" r="2.4" fill="#98aa2e"/>
<circle cx="1002.8" cy="428.2" r="2.4" fill="#98aa2e"/>
<circle cx="1042.3" cy="426.4" r="2.4" fill="#98aa2e"/>
<circle cx="821.5" cy="428.2" r="2.4" fill="#98aa2e"/>
<circle cx="855.8" cy="435.9" r="2.4" fill="#98aa2e"/>
<circle cx="974.3" cy="435.9" r="2.4" fill="#98aa2e"/>
<circle cx="1041.3" cy="435.9" r="2.4" fill="#98aa2e"/>
<circle cx="917.4" cy="443.3" r="2.4" fill="#98aa2e"/>
<circle cx="1103.8" cy="426.4" r="2.4" fill="#98aa2e"/>
<circle cx="1117.6" cy="426.4" r="2.4" fill="#98aa2e"/>
<circle cx="1113.0" cy="435.9" r="2.4" fill="#98aa2e"/>
<circle cx="1138.7" cy="435.9" r="2.4" fill="#98aa2e"/>
<circle cx="996.7" cy="418.1" r="3.0" fill="#98aa2e"/>
<circle cx="935.4" cy="436.9" r="3.0" fill="#98aa2e"/>
<circle cx="1095.5" cy="438.7" r="3.0" fill="#98aa2e"/>
<path d="M876.0,435.9 L880.6,435.9" stroke="#98aa2e" stroke-width="4.8" fill="none" stroke-linecap="round" stroke-linejoin="round"/>
<circle cx="1104.7" cy="435.9" r="3.8" fill="#98aa2e"/>
<path d="M1124.0,443.3 L1132.3,443.3" stroke="#98aa2e" stroke-width="5.5" fill="none" stroke-linecap="round" stroke-linejoin="round"/>
<circle cx="821.8" cy="453.0" r="2.4" fill="#98aa2e"/>
<circle cx="1034.0" cy="458.0" r="2.4" fill="#98aa2e"/>
<circle cx="1121.2" cy="459.8" r="2.4" fill="#98aa2e"/>
<circle cx="936.6" cy="470.3" r="2.4" fill="#98aa2e"/>
<circle cx="1042.3" cy="474.0" r="2.4" fill="#98aa2e"/>
<circle cx="871.4" cy="497.5" r="2.4" fill="#98aa2e"/>
<circle cx="857.7" cy="503.0" r="2.4" fill="#98aa2e"/>
<circle cx="1050.5" cy="503.0" r="2.4" fill="#98aa2e"/>
<circle cx="906.7" cy="453.0" r="3.0" fill="#98aa2e"/>
<circle cx="1002.2" cy="453.0" r="3.0" fill="#98aa2e"/>
<circle cx="1038.6" cy="454.3" r="3.0" fill="#98aa2e"/>
<circle cx="875.1" cy="503.0" r="3.0" fill="#98aa2e"/>
<path d="M988.1,453.4 L988.1,457.1" stroke="#98aa2e" stroke-width="4.8" fill="none" stroke-linecap="round" stroke-linejoin="round"/>
<path d="M1121.2,467.7 L1124.9,466.2" stroke="#98aa2e" stroke-width="4.8" fill="none" stroke-linecap="round" stroke-linejoin="round"/>
<path d="M855.8,491.0 L859.5,491.0" stroke="#98aa2e" stroke-width="5.5" fill="none" stroke-linecap="round" stroke-linejoin="round"/>
<circle cx="1324.6" cy="260.0" r="2.4" fill="#98aa2e"/>
<circle cx="1222.3" cy="268.8" r="2.4" fill="#98aa2e"/>
<circle cx="1215.8" cy="278.9" r="2.4" fill="#98aa2e"/>
<circle cx="1206.6" cy="286.6" r="2.4" fill="#98aa2e"/>
<circle cx="1163.5" cy="298.2" r="2.4" fill="#98aa2e"/>
<circle cx="1168.1" cy="295.4" r="2.4" fill="#98aa2e"/>
<circle cx="1170.8" cy="301.8" r="2.4" fill="#98aa2e"/>
<circle cx="1151.5" cy="311.6" r="2.4" fill="#98aa2e"/>
<circle cx="1169.0" cy="318.9" r="2.4" fill="#98aa2e"/>
<circle cx="1187.9" cy="318.9" r="2.4" fill="#98aa2e"/>
<circle cx="1155.2" cy="327.6" r="2.4" fill="#98aa2e"/>
<circle cx="1200.2" cy="328.5" r="2.4" fill="#98aa2e"/>
<circle cx="1209.4" cy="301.3" r="2.4" fill="#98aa2e"/>
<circle cx="1209.4" cy="308.8" r="2.4" fill="#98aa2e"/>
<circle cx="1208.5" cy="315.2" r="2.4" fill="#98aa2e"/>
<circle cx="1430.7" cy="260.0" r="3.0" fill="#98aa2e"/>
<path d="M1217.7,271.5 L1217.7,275.2" stroke="#98aa2e" stroke-width="4.8" fill="none" stroke-linecap="round" stroke-linejoin="round"/>
<path d="M1220.4,277.0 L1225.0,277.0" stroke="#98aa2e" stroke-width="5.5" fill="none" stroke-linecap="round" stroke-linejoin="round"/>
<path d="M1234.2,273.4 L1238.8,278.0" stroke="#98aa2e" stroke-width="5.5" fill="none" stroke-linecap="round" stroke-linejoin="round"/>
<path d="M1200.2,287.1 L1202.0,289.0" stroke="#98aa2e" stroke-width="4.8" fill="none" stroke-linecap="round" stroke-linejoin="round"/>
<path d="M1173.6,297.2 L1176.3,300.0 L1177.2,305.5 L1174.5,310.1" stroke="#98aa2e" stroke-width="6.0" fill="none" stroke-linecap="round" stroke-linejoin="round"/>
<path d="M1253.5,301.8 L1257.2,303.1" stroke="#98aa2e" stroke-width="4.8" fill="none" stroke-linecap="round" stroke-linejoin="round"/>
<circle cx="1246.1" cy="310.1" r="2.4" fill="#98aa2e"/>
<circle cx="1247.4" cy="315.2" r="2.4" fill="#98aa2e"/>
<circle cx="1236.0" cy="318.9" r="2.4" fill="#98aa2e"/>
<circle cx="1241.2" cy="323.0" r="2.4" fill="#98aa2e"/>
<circle cx="1233.6" cy="334.0" r="2.4" fill="#98aa2e"/>
<circle cx="1262.7" cy="330.3" r="2.4" fill="#98aa2e"/>
<circle cx="1292.1" cy="295.8" r="2.4" fill="#98aa2e"/>
<circle cx="1299.0" cy="301.5" r="2.4" fill="#98aa2e"/>
<circle cx="1321.4" cy="295.8" r="2.4" fill="#98aa2e"/>
<circle cx="1308.2" cy="318.4" r="2.4" fill="#98aa2e"/>
<circle cx="1359.5" cy="334.0" r="2.4" fill="#98aa2e"/>
<circle cx="1389.4" cy="283.8" r="2.4" fill="#98aa2e"/>
<circle cx="1409.1" cy="286.6" r="2.4" fill="#98aa2e"/>
<circle cx="1390.3" cy="298.5" r="2.4" fill="#98aa2e"/>
<circle cx="1406.5" cy="302.4" r="2.4" fill="#98aa2e"/>
<circle cx="1383.9" cy="312.5" r="2.4" fill="#98aa2e"/>
<circle cx="1393.1" cy="312.5" r="2.4" fill="#98aa2e"/>
<circle cx="1401.3" cy="313.4" r="2.4" fill="#98aa2e"/>
<circle cx="1383.9" cy="318.4" r="2.4" fill="#98aa2e"/>
<circle cx="1400.4" cy="318.4" r="2.4" fill="#98aa2e"/>
<circle cx="1389.4" cy="323.0" r="2.4" fill="#98aa2e"/>
<circle cx="1422.5" cy="334.0" r="2.4" fill="#98aa2e"/>
<circle cx="1426.1" cy="341.3" r="2.4" fill="#98aa2e"/>
<circle cx="1419.3" cy="345.0" r="2.4" fill="#98aa2e"/>
<circle cx="1419.3" cy="351.8" r="2.4" fill="#98aa2e"/>
<circle cx="1439.0" cy="355.5" r="2.4" fill="#98aa2e"/>
<circle cx="1391.2" cy="345.4" r="2.4" fill="#98aa2e"/>
<circle cx="1435.3" cy="271.5" r="2.4" fill="#98aa2e"/>
<circle cx="1327.9" cy="318.7" r="3.0" fill="#98aa2e"/>
<circle cx="1360.9" cy="311.6" r="3.0" fill="#98aa2e"/>
<circle cx="1405.9" cy="322.0" r="3.0" fill="#98aa2e"/>
<path d="M1318.3,324.8 L1318.3,327.6" stroke="#98aa2e" stroke-width="5.5" fill="none" stroke-linecap="round" stroke-linejoin="round"/>
<path d="M1360.0,286.2 L1364.6,287.7" stroke="#98aa2e" stroke-width="4.8" fill="none" stroke-linecap="round" stroke-linejoin="round"/>
<circle cx="1378.4" cy="295.8" r="4.0" fill="#87a34b"/>
<path d="M1397.7,300.9 L1396.8,309.2" stroke="#98aa2e" stroke-width="6.0" fill="none" stroke-linecap="round" stroke-linejoin="round"/>
<path d="M1429.8,324.8 L1434.4,324.8" stroke="#98aa2e" stroke-width="5.5" fill="none" stroke-linecap="round" stroke-linejoin="round"/>
<path d="M1389.4,352.4 L1389.4,356.0" stroke="#98aa2e" stroke-width="5.5" fill="none" stroke-linecap="round" stroke-linejoin="round"/>
<path d="M1394.9,350.5 L1398.6,354.2" stroke="#98aa2e" stroke-width="6.0" fill="none" stroke-linecap="round" stroke-linejoin="round"/>
<path d="M1148.8,358.2 L1152.5,356.4" stroke="#98aa2e" stroke-width="4.8" fill="none" stroke-linecap="round" stroke-linejoin="round"/>
<path d="M1241.2,352.4 L1241.2,356.0" stroke="#98aa2e" stroke-width="5.5" fill="none" stroke-linecap="round" stroke-linejoin="round"/>
<circle cx="1138.3" cy="390.0" r="2.4" fill="#98aa2e"/>
<circle cx="1181.3" cy="394.6" r="2.4" fill="#98aa2e"/>
<circle cx="1190.7" cy="392.8" r="2.4" fill="#98aa2e"/>
<circle cx="1216.7" cy="394.6" r="2.4" fill="#98aa2e"/>
<circle cx="1261.4" cy="394.6" r="2.4" fill="#98aa2e"/>
<circle cx="1294.4" cy="393.7" r="2.4" fill="#98aa2e"/>
<circle cx="1309.1" cy="396.4" r="2.4" fill="#98aa2e"/>
<circle cx="1315.9" cy="399.2" r="2.4" fill="#98aa2e"/>
<circle cx="1433.5" cy="392.8" r="2.4" fill="#98aa2e"/>
<circle cx="1190.7" cy="407.8" r="2.4" fill="#98aa2e"/>
<circle cx="1217.7" cy="413.3" r="2.4" fill="#98aa2e"/>
<circle cx="1243.0" cy="404.2" r="2.4" fill="#98aa2e"/>
<circle cx="1293.3" cy="406.9" r="2.4" fill="#98aa2e"/>
<circle cx="1385.7" cy="411.5" r="2.4" fill="#98aa2e"/>
<circle cx="1433.5" cy="407.8" r="2.4" fill="#98aa2e"/>
<circle cx="1428.9" cy="413.3" r="2.4" fill="#98aa2e"/>
<path d="M1157.0,392.8 L1167.1,392.4" stroke="#98aa2e" stroke-width="4.8" fill="none" stroke-linecap="round" stroke-linejoin="round"/>
<circle cx="1143.3" cy="405.3" r="3.0" fill="#98aa2e"/>
<circle cx="1215.5" cy="426.7" r="3.0" fill="#98aa2e"/>
<path d="M1157.0,407.8 L1165.3,407.8" stroke="#98aa2e" stroke-width="4.8" fill="none" stroke-linecap="round" stroke-linejoin="round"/>
<circle cx="1254.0" cy="426.7" r="2.4" fill="#98aa2e"/>
<circle cx="1302.5" cy="426.7" r="2.4" fill="#98aa2e"/>
<circle cx="1319.6" cy="432.3" r="2.4" fill="#98aa2e"/>
<circle cx="1407.2" cy="428.2" r="2.4" fill="#98aa2e"/>
<circle cx="1139.0" cy="435.9" r="2.4" fill="#98aa2e"/>
<circle cx="1164.4" cy="453.0" r="2.4" fill="#98aa2e"/>
<circle cx="1202.6" cy="459.8" r="2.4" fill="#98aa2e"/>
<circle cx="1256.8" cy="462.9" r="2.4" fill="#98aa2e"/>
<circle cx="1310.4" cy="474.0" r="2.4" fill="#98aa2e"/>
<circle cx="1328.8" cy="475.1" r="2.4" fill="#98aa2e"/>
<circle cx="1420.6" cy="473.2" r="2.4" fill="#98aa2e"/>
<circle cx="1427.1" cy="473.2" r="2.4" fill="#98aa2e"/>
<circle cx="1414.6" cy="483.3" r="2.4" fill="#98aa2e"/>
<circle cx="1171.7" cy="491.0" r="2.4" fill="#98aa2e"/>
<circle cx="1171.7" cy="503.0" r="2.4" fill="#98aa2e"/>
<circle cx="1178.5" cy="501.5" r="2.4" fill="#98aa2e"/>
<circle cx="1214.9" cy="501.5" r="2.4" fill="#98aa2e"/>
<circle cx="1398.6" cy="503.0" r="2.4" fill="#98aa2e"/>
<path d="M1374.7,426.4 L1381.1,429.1" stroke="#98aa2e" stroke-width="4.8" fill="none" stroke-linecap="round" stroke-linejoin="round"/>
<path d="M1419.3,428.2 L1439.0,428.2" stroke="#98aa2e" stroke-width="4.8" fill="none" stroke-linecap="round" stroke-linejoin="round"/>
<circle cx="1158.5" cy="453.0" r="3.0" fill="#98aa2e"/>
<circle cx="1189.7" cy="453.0" r="3.0" fill="#98aa2e"/>
<circle cx="1405.9" cy="473.2" r="3.0" fill="#98aa2e"/>
<circle cx="1146.9" cy="458.9" r="3.5" fill="#98aa2e"/>
<path d="M1273.7,460.2 L1286.5,460.2" stroke="#98aa2e" stroke-width="6.0" fill="none" stroke-linecap="round" stroke-linejoin="round"/>
<path d="M1344.0,460.2 L1357.3,460.2" stroke="#98aa2e" stroke-width="6.0" fill="none" stroke-linecap="round" stroke-linejoin="round"/>
<circle cx="1432.2" cy="453.0" r="3.2" fill="#98aa2e"/>
<circle cx="1411.5" cy="496.6" r="3.2" fill="#98aa2e"/>
<path d="M1271.8,476.3 L1273.7,480.9" stroke="#98aa2e" stroke-width="5.5" fill="none" stroke-linecap="round" stroke-linejoin="round"/>
<circle cx="1311.9" cy="489.8" r="3.5" fill="#87a34b"/>
<path d="M1343.5,497.5 L1357.3,497.5" stroke="#98aa2e" stroke-width="6.0" fill="none" stroke-linecap="round" stroke-linejoin="round"/>
<path d="M1200.2,500.2 L1203.9,499.3" stroke="#98aa2e" stroke-width="4.8" fill="none" stroke-linecap="round" stroke-linejoin="round"/>
<path d="M1512.8,276.1 L1512.8,278.9" stroke="#98aa2e" stroke-width="5.5" fill="none" stroke-linecap="round" stroke-linejoin="round"/>
<circle cx="1550.1" cy="279.8" r="2.4" fill="#98aa2e"/>
<circle cx="1465.2" cy="293.9" r="2.4" fill="#98aa2e"/>
<circle cx="1471.7" cy="302.4" r="2.4" fill="#98aa2e"/>
<circle cx="1548.3" cy="306.1" r="2.4" fill="#98aa2e"/>
<circle cx="1553.8" cy="303.1" r="2.4" fill="#98aa2e"/>
<circle cx="1468.9" cy="318.4" r="2.4" fill="#98aa2e"/>
<circle cx="1516.5" cy="318.9" r="2.4" fill="#98aa2e"/>
<circle cx="1531.4" cy="318.9" r="2.4" fill="#98aa2e"/>
<circle cx="1537.3" cy="318.4" r="2.4" fill="#98aa2e"/>
<circle cx="1468.0" cy="363.0" r="2.4" fill="#98aa2e"/>
<circle cx="1503.3" cy="363.0" r="2.4" fill="#98aa2e"/>
<circle cx="1510.1" cy="361.2" r="2.4" fill="#98aa2e"/>
<circle cx="1530.5" cy="363.0" r="2.4" fill="#98aa2e"/>
<circle cx="1482.7" cy="380.8" r="2.4" fill="#98aa2e"/>
<circle cx="1549.2" cy="380.8" r="2.4" fill="#98aa2e"/>
<circle cx="1468.0" cy="396.4" r="2.4" fill="#98aa2e"/>
<circle cx="1460.5" cy="402.3" r="2.4" fill="#98aa2e"/>
<circle cx="1482.1" cy="435.9" r="2.4" fill="#98aa2e"/>
<circle cx="1534.5" cy="435.9" r="2.4" fill="#98aa2e"/>
<circle cx="1553.8" cy="460.2" r="2.4" fill="#98aa2e"/>
<circle cx="1499.6" cy="490.7" r="2.4" fill="#98aa2e"/>
<circle cx="1514.7" cy="488.8" r="2.4" fill="#98aa2e"/>
<circle cx="1526.8" cy="490.7" r="2.4" fill="#98aa2e"/>
<circle cx="1542.8" cy="497.5" r="2.4" fill="#98aa2e"/>
<circle cx="1481.2" cy="503.0" r="2.4" fill="#98aa2e"/>
<circle cx="1501.1" cy="503.0" r="2.4" fill="#98aa2e"/>
<circle cx="1512.1" cy="503.0" r="2.4" fill="#98aa2e"/>
<path d="M1522.6,298.2 L1525.3,298.2 L1522.6,301.8" stroke="#98aa2e" stroke-width="6.0" fill="none" stroke-linecap="round" stroke-linejoin="round"/>
<circle cx="1519.4" cy="334.9" r="3.0" fill="#98aa2e"/>
<circle cx="1457.7" cy="429.9" r="3.0" fill="#98aa2e"/>
<circle cx="1485.3" cy="497.5" r="3.0" fill="#98aa2e"/>
<path d="M1457.3,355.1 L1461.4,353.3" stroke="#98aa2e" stroke-width="5.5" fill="none" stroke-linecap="round" stroke-linejoin="round"/>
<path d="M1478.5,352.4 L1478.5,355.1" stroke="#98aa2e" stroke-width="6.0" fill="none" stroke-linecap="round" stroke-linejoin="round"/>
<path d="M1489.5,351.4 L1489.5,356.0" stroke="#98aa2e" stroke-width="5.5" fill="none" stroke-linecap="round" stroke-linejoin="round"/>
<path d="M1462.9,377.7 L1467.5,377.7" stroke="#98aa2e" stroke-width="5.5" fill="none" stroke-linecap="round" stroke-linejoin="round"/>
<path d="M1553.8,396.4 L1558.0,395.0" stroke="#98aa2e" stroke-width="4.8" fill="none" stroke-linecap="round" stroke-linejoin="round"/>
<path d="M1538.2,453.9 L1538.2,457.1" stroke="#98aa2e" stroke-width="5.5" fill="none" stroke-linecap="round" stroke-linejoin="round"/>
<path d="M1522.6,500.2 L1527.1,503.0" stroke="#98aa2e" stroke-width="6.0" fill="none" stroke-linecap="round" stroke-linejoin="round"/>
<path d="M510.0,500.9 L519.7,507.3 L534.4,523.9 L539.9,527.6 L544.5,538.6 L552.8,545.9 L560.1,555.1 L569.3,562.5 L571.1,567.0 L578.5,572.6 L589.5,583.6 L596.8,585.4 L607.9,589.1 L618.9,593.7 L633.6,597.0 L639.1,599.2 L652.0,612.0 L662.1,615.4" stroke="#98aa2e" stroke-width="5.2" fill="none" stroke-linecap="round" stroke-linejoin="round"/>
<circle cx="681.0" cy="616.1" r="2.4" fill="#98aa2e"/>
<circle cx="688.3" cy="617.0" r="2.4" fill="#98aa2e"/>
<circle cx="697.5" cy="611.1" r="2.4" fill="#98aa2e"/>
<path d="M697.9,617.6 L721.8,640.5 L730.9,647.0 L778.7,694.7 L791.6,711.2 L806.2,724.1 L825.0,737.0" stroke="#98aa2e" stroke-width="5.2" fill="none" stroke-linecap="round" stroke-linejoin="round"/>
<circle cx="805.3" cy="710.3" r="4.2" fill="#87a34b"/>
<circle cx="804.4" cy="718.6" r="4.0" fill="#a9a722"/>
<circle cx="792.5" cy="706.6" r="2.4" fill="#98aa2e"/>
<circle cx="822.8" cy="707.6" r="2.4" fill="#98aa2e"/>
<circle cx="823.7" cy="727.8" r="2.4" fill="#98aa2e"/>
<circle cx="552.8" cy="537.7" r="2.4" fill="#98aa2e"/>
<circle cx="567.1" cy="530.9" r="2.4" fill="#98aa2e"/>
<circle cx="565.6" cy="543.2" r="2.4" fill="#98aa2e"/>
<circle cx="565.1" cy="549.6" r="2.4" fill="#98aa2e"/>
<circle cx="588.6" cy="529.0" r="2.4" fill="#98aa2e"/>
<circle cx="580.7" cy="534.5" r="2.4" fill="#98aa2e"/>
<circle cx="586.7" cy="534.5" r="2.4" fill="#98aa2e"/>
<circle cx="653.8" cy="509.6" r="2.4" fill="#98aa2e"/>
<circle cx="691.1" cy="504.0" r="2.4" fill="#98aa2e"/>
<circle cx="692.7" cy="526.3" r="2.4" fill="#98aa2e"/>
<circle cx="693.8" cy="540.4" r="2.4" fill="#98aa2e"/>
<circle cx="694.8" cy="559.1" r="2.4" fill="#98aa2e"/>
<circle cx="695.7" cy="570.2" r="2.4" fill="#98aa2e"/>
<circle cx="696.6" cy="574.9" r="2.4" fill="#98aa2e"/>
<circle cx="778.1" cy="529.0" r="2.4" fill="#98aa2e"/>
<circle cx="791.9" cy="529.0" r="2.4" fill="#98aa2e"/>
<circle cx="790.1" cy="534.5" r="2.4" fill="#98aa2e"/>
<circle cx="801.1" cy="532.7" r="2.4" fill="#98aa2e"/>
<circle cx="820.0" cy="538.2" r="2.4" fill="#98aa2e"/>
<circle cx="821.9" cy="563.7" r="2.4" fill="#98aa2e"/>
<circle cx="798.5" cy="612.0" r="2.4" fill="#98aa2e"/>
<circle cx="822.8" cy="622.7" r="2.4" fill="#98aa2e"/>
<circle cx="584.0" cy="524.8" r="3.0" fill="#98aa2e"/>
<circle cx="812.7" cy="543.2" r="3.0" fill="#98aa2e"/>
<circle cx="814.5" cy="621.2" r="3.0" fill="#98aa2e"/>
<path d="M646.4,528.5 L650.1,530.3 L646.4,534.9" stroke="#98aa2e" stroke-width="5.5" fill="none" stroke-linecap="round" stroke-linejoin="round"/>
<path d="M802.6,617.6 L806.2,619.4" stroke="#98aa2e" stroke-width="5.5" fill="none" stroke-linecap="round" stroke-linejoin="round"/>
<circle cx="932.4" cy="522.6" r="3.0" fill="#98aa2e"/>
<circle cx="994.1" cy="550.0" r="3.0" fill="#98aa2e"/>
<circle cx="939.4" cy="564.3" r="3.0" fill="#98aa2e"/>
<circle cx="944.0" cy="557.5" r="3.0" fill="#98aa2e"/>
<circle cx="1011.0" cy="589.5" r="3.0" fill="#98aa2e"/>
<circle cx="843.9" cy="707.6" r="3.0" fill="#98aa2e"/>
<circle cx="966.0" cy="712.2" r="3.0" fill="#98aa2e"/>
<circle cx="937.6" cy="745.8" r="3.0" fill="#98aa2e"/>
<circle cx="860.0" cy="534.5" r="2.4" fill="#98aa2e"/>
<circle cx="897.5" cy="532.7" r="2.4" fill="#98aa2e"/>
<circle cx="908.7" cy="538.6" r="2.4" fill="#98aa2e"/>
<circle cx="920.1" cy="532.7" r="2.4" fill="#98aa2e"/>
<circle cx="963.6" cy="537.7" r="2.4" fill="#98aa2e"/>
<circle cx="973.0" cy="537.7" r="2.4" fill="#98aa2e"/>
<circle cx="994.5" cy="560.2" r="2.4" fill="#98aa2e"/>
<circle cx="1053.3" cy="544.1" r="2.4" fill="#98aa2e"/>
<circle cx="870.5" cy="563.9" r="2.4" fill="#98aa2e"/>
<circle cx="822.2" cy="563.9" r="2.4" fill="#98aa2e"/>
<circle cx="1120.3" cy="567.6" r="2.4" fill="#98aa2e"/>
<circle cx="1124.4" cy="579.5" r="2.4" fill="#98aa2e"/>
<circle cx="969.3" cy="606.5" r="2.4" fill="#98aa2e"/>
<circle cx="904.1" cy="608.7" r="2.4" fill="#98aa2e"/>
<circle cx="937.6" cy="609.7" r="2.4" fill="#98aa2e"/>
<circle cx="995.4" cy="613.3" r="2.4" fill="#98aa2e"/>
<path d="M905.4,532.7 L909.1,532.7" stroke="#98aa2e" stroke-width="5.5" fill="none" stroke-linecap="round" stroke-linejoin="round"/>
<path d="M972.5,547.8 L977.1,547.8" stroke="#98aa2e" stroke-width="4.8" fill="none" stroke-linecap="round" stroke-linejoin="round"/>
<path d="M1030.0,539.5 L1031.2,539.5" stroke="#98aa2e" stroke-width="5.5" fill="none" stroke-linecap="round" stroke-linejoin="round"/>
<path d="M972.5,563.9 L977.1,563.9" stroke="#98aa2e" stroke-width="4.8" fill="none" stroke-linecap="round" stroke-linejoin="round"/>
<path d="M1020.2,562.5 L1021.1,567.6" stroke="#98aa2e" stroke-width="6.0" fill="none" stroke-linecap="round" stroke-linejoin="round"/>
<path d="M955.9,599.2 L961.4,605.1" stroke="#98aa2e" stroke-width="6.0" fill="none" stroke-linecap="round" stroke-linejoin="round"/>
<path d="M1045.0,614.3 L1048.7,615.4" stroke="#98aa2e" stroke-width="4.8" fill="none" stroke-linecap="round" stroke-linejoin="round"/>
<circle cx="823.7" cy="622.5" r="2.4" fill="#98aa2e"/>
<circle cx="876.9" cy="625.3" r="2.4" fill="#98aa2e"/>
<circle cx="884.3" cy="626.2" r="2.4" fill="#98aa2e"/>
<circle cx="927.5" cy="628.0" r="2.4" fill="#98aa2e"/>
<circle cx="941.2" cy="639.6" r="2.4" fill="#98aa2e"/>
<circle cx="948.0" cy="640.5" r="2.4" fill="#98aa2e"/>
<circle cx="954.5" cy="641.4" r="2.4" fill="#98aa2e"/>
<circle cx="975.8" cy="642.4" r="2.4" fill="#98aa2e"/>
<circle cx="981.6" cy="644.2" r="2.4" fill="#98aa2e"/>
<circle cx="986.2" cy="643.3" r="2.4" fill="#98aa2e"/>
<circle cx="1003.7" cy="645.1" r="2.4" fill="#98aa2e"/>
<circle cx="1013.2" cy="646.0" r="2.4" fill="#98aa2e"/>
<circle cx="1025.4" cy="647.0" r="2.4" fill="#98aa2e"/>
<circle cx="1096.5" cy="649.7" r="2.4" fill="#98aa2e"/>
<circle cx="1137.8" cy="658.9" r="2.4" fill="#98aa2e"/>
<circle cx="966.6" cy="668.4" r="2.4" fill="#98aa2e"/>
<path d="M858.6,623.4 L861.9,624.9" stroke="#98aa2e" stroke-width="4.8" fill="none" stroke-linecap="round" stroke-linejoin="round"/>
<path d="M895.3,626.7 L903.6,631.3" stroke="#98aa2e" stroke-width="5.5" fill="none" stroke-linecap="round" stroke-linejoin="round"/>
<path d="M909.1,631.9 L919.2,635.9" stroke="#98aa2e" stroke-width="5.5" fill="none" stroke-linecap="round" stroke-linejoin="round"/>
<path d="M921.9,636.3 L927.5,638.7" stroke="#98aa2e" stroke-width="5.5" fill="none" stroke-linecap="round" stroke-linejoin="round"/>
<path d="M1043.2,647.5 L1047.8,648.8" stroke="#98aa2e" stroke-width="4.8" fill="none" stroke-linecap="round" stroke-linejoin="round"/>
<path d="M1106.6,651.5 L1108.4,649.7" stroke="#98aa2e" stroke-width="4.8" fill="none" stroke-linecap="round" stroke-linejoin="round"/>
<path d="M1122.2,653.4 L1126.8,655.8" stroke="#98aa2e" stroke-width="4.8" fill="none" stroke-linecap="round" stroke-linejoin="round"/>
<path d="M1130.4,654.3 L1134.1,656.5" stroke="#98aa2e" stroke-width="4.8" fill="none" stroke-linecap="round" stroke-linejoin="round"/>
<path d="M1057.0,695.1 L1093.7,697.5" stroke="#98aa2e" stroke-width="7.5" fill="none" stroke-linecap="round" stroke-linejoin="round"/>
<path d="M822.8,705.7 L822.8,709.4" stroke="#98aa2e" stroke-width="5.5" fill="none" stroke-linecap="round" stroke-linejoin="round"/>
<circle cx="976.1" cy="715.8" r="2.4" fill="#98aa2e"/>
<circle cx="1025.4" cy="713.1" r="2.4" fill="#98aa2e"/>
<circle cx="1035.8" cy="708.5" r="2.4" fill="#98aa2e"/>
<circle cx="1028.1" cy="720.4" r="2.4" fill="#98aa2e"/>
<circle cx="1036.8" cy="723.2" r="2.4" fill="#98aa2e"/>
<circle cx="1048.7" cy="723.2" r="2.4" fill="#98aa2e"/>
<circle cx="1035.8" cy="733.7" r="2.4" fill="#98aa2e"/>
<circle cx="993.6" cy="726.3" r="2.4" fill="#98aa2e"/>
<circle cx="888.0" cy="720.4" r="2.4" fill="#98aa2e"/>
<circle cx="939.4" cy="731.8" r="2.4" fill="#98aa2e"/>
<circle cx="965.5" cy="731.8" r="2.4" fill="#98aa2e"/>
<circle cx="975.2" cy="733.7" r="2.4" fill="#98aa2e"/>
<circle cx="824.6" cy="727.4" r="2.4" fill="#98aa2e"/>
<circle cx="894.4" cy="743.9" r="2.4" fill="#98aa2e"/>
<circle cx="914.2" cy="745.8" r="2.4" fill="#98aa2e"/>
<circle cx="964.6" cy="745.8" r="2.4" fill="#98aa2e"/>
<circle cx="885.2" cy="748.0" r="2.4" fill="#98aa2e"/>
<circle cx="879.7" cy="750.0" r="2.4" fill="#98aa2e"/>
<circle cx="974.3" cy="750.0" r="2.4" fill="#98aa2e"/>
<circle cx="1135.0" cy="750.0" r="2.4" fill="#98aa2e"/>
<circle cx="1118.5" cy="734.6" r="3.0" fill="#98aa2e"/>
<path d="M825.0,737.0 L827.3,738.8 L831.0,744.3 L845.7,745.2 L852.1,750.0" stroke="#98aa2e" stroke-width="5.2" fill="none" stroke-linecap="round" stroke-linejoin="round"/>
<circle cx="868.7" cy="732.4" r="3.5" fill="#98aa2e"/>
<path d="M856.7,738.8 L861.3,737.0" stroke="#98aa2e" stroke-width="5.5" fill="none" stroke-linecap="round" stroke-linejoin="round"/>
<path d="M877.9,735.1 L878.8,738.8" stroke="#98aa2e" stroke-width="5.5" fill="none" stroke-linecap="round" stroke-linejoin="round"/>
<path d="M1056.0,745.8 L1059.7,745.8" stroke="#98aa2e" stroke-width="6.0" fill="none" stroke-linecap="round" stroke-linejoin="round"/>
<path d="M1075.3,745.8 L1079.9,745.8" stroke="#98aa2e" stroke-width="6.0" fill="none" stroke-linecap="round" stroke-linejoin="round"/>
<circle cx="1205.7" cy="505.9" r="2.4" fill="#98aa2e"/>
<circle cx="1292.4" cy="522.6" r="2.4" fill="#98aa2e"/>
<circle cx="1407.2" cy="508.6" r="2.4" fill="#98aa2e"/>
<circle cx="1214.9" cy="529.9" r="2.4" fill="#98aa2e"/>
<circle cx="1207.6" cy="535.8" r="2.4" fill="#98aa2e"/>
<circle cx="1196.2" cy="545.0" r="2.4" fill="#98aa2e"/>
<circle cx="1254.4" cy="529.9" r="2.4" fill="#98aa2e"/>
<circle cx="1312.8" cy="529.9" r="2.4" fill="#98aa2e"/>
<circle cx="1328.8" cy="529.9" r="2.4" fill="#98aa2e"/>
<circle cx="1292.4" cy="534.5" r="2.4" fill="#98aa2e"/>
<circle cx="1374.3" cy="529.9" r="2.4" fill="#98aa2e"/>
<circle cx="1437.2" cy="529.0" r="2.4" fill="#98aa2e"/>
<circle cx="1437.2" cy="534.5" r="2.4" fill="#98aa2e"/>
<circle cx="1236.4" cy="552.4" r="2.4" fill="#98aa2e"/>
<circle cx="1226.3" cy="568.5" r="2.4" fill="#98aa2e"/>
<circle cx="1243.0" cy="572.0" r="2.4" fill="#98aa2e"/>
<circle cx="1203.5" cy="575.9" r="2.4" fill="#98aa2e"/>
<circle cx="1314.1" cy="563.7" r="2.4" fill="#98aa2e"/>
<circle cx="1358.5" cy="571.3" r="2.4" fill="#98aa2e"/>
<circle cx="1391.4" cy="569.3" r="2.4" fill="#98aa2e"/>
<circle cx="1417.5" cy="561.9" r="2.4" fill="#98aa2e"/>
<circle cx="1268.2" cy="608.4" r="2.4" fill="#98aa2e"/>
<path d="M1344.4,510.1 L1356.3,522.0" stroke="#98aa2e" stroke-width="6.0" fill="none" stroke-linecap="round" stroke-linejoin="round"/>
<path d="M1360.9,505.5 L1365.5,507.0" stroke="#98aa2e" stroke-width="4.8" fill="none" stroke-linecap="round" stroke-linejoin="round"/>
<circle cx="1198.0" cy="524.8" r="3.0" fill="#98aa2e"/>
<circle cx="1400.1" cy="522.6" r="3.0" fill="#98aa2e"/>
<path d="M1160.7,538.2 L1166.6,538.2" stroke="#98aa2e" stroke-width="4.8" fill="none" stroke-linecap="round" stroke-linejoin="round"/>
<path d="M1302.2,529.9 L1305.5,529.9" stroke="#98aa2e" stroke-width="5.5" fill="none" stroke-linecap="round" stroke-linejoin="round"/>
<path d="M1382.1,523.9 L1385.7,522.4" stroke="#98aa2e" stroke-width="5.5" fill="none" stroke-linecap="round" stroke-linejoin="round"/>
<path d="M1253.5,578.6 L1256.2,582.7" stroke="#98aa2e" stroke-width="4.8" fill="none" stroke-linecap="round" stroke-linejoin="round"/>
<path d="M1360.9,577.1 L1365.5,577.1" stroke="#98aa2e" stroke-width="6.0" fill="none" stroke-linecap="round" stroke-linejoin="round"/>
<circle cx="1138.3" cy="658.9" r="2.4" fill="#98aa2e"/>
<circle cx="1156.1" cy="661.6" r="2.4" fill="#98aa2e"/>
<circle cx="1169.9" cy="660.7" r="2.4" fill="#98aa2e"/>
<circle cx="1182.2" cy="662.6" r="2.4" fill="#98aa2e"/>
<circle cx="1300.9" cy="670.3" r="2.4" fill="#98aa2e"/>
<circle cx="1307.3" cy="671.2" r="2.4" fill="#98aa2e"/>
<circle cx="1359.7" cy="673.0" r="2.4" fill="#98aa2e"/>
<circle cx="1412.7" cy="677.6" r="2.4" fill="#98aa2e"/>
<circle cx="1429.5" cy="681.3" r="2.4" fill="#98aa2e"/>
<circle cx="1218.6" cy="698.0" r="2.4" fill="#98aa2e"/>
<circle cx="1377.5" cy="707.6" r="2.4" fill="#98aa2e"/>
<circle cx="1402.6" cy="709.4" r="2.4" fill="#98aa2e"/>
<circle cx="1416.4" cy="710.3" r="2.4" fill="#98aa2e"/>
<circle cx="1436.2" cy="717.7" r="2.4" fill="#98aa2e"/>
<circle cx="1150.6" cy="714.0" r="2.4" fill="#98aa2e"/>
<circle cx="1180.4" cy="720.4" r="2.4" fill="#98aa2e"/>
<circle cx="1234.2" cy="746.7" r="2.4" fill="#98aa2e"/>
<circle cx="1239.7" cy="747.1" r="2.4" fill="#98aa2e"/>
<circle cx="1323.8" cy="747.6" r="2.4" fill="#98aa2e"/>
<circle cx="1367.0" cy="746.7" r="2.4" fill="#98aa2e"/>
<circle cx="1413.8" cy="745.6" r="2.4" fill="#98aa2e"/>
<path d="M1145.1,657.1 L1150.6,659.8" stroke="#98aa2e" stroke-width="4.8" fill="none" stroke-linecap="round" stroke-linejoin="round"/>
<path d="M1188.3,663.1 L1191.9,664.8" stroke="#98aa2e" stroke-width="4.8" fill="none" stroke-linecap="round" stroke-linejoin="round"/>
<path d="M1214.0,665.3 L1218.6,666.6" stroke="#98aa2e" stroke-width="4.8" fill="none" stroke-linecap="round" stroke-linejoin="round"/>
<path d="M1287.5,667.5 L1291.1,669.4" stroke="#98aa2e" stroke-width="4.8" fill="none" stroke-linecap="round" stroke-linejoin="round"/>
<circle cx="1326.4" cy="672.1" r="3.0" fill="#98aa2e"/>
<circle cx="1392.7" cy="676.7" r="3.0" fill="#98aa2e"/>
<circle cx="1394.4" cy="707.6" r="3.0" fill="#98aa2e"/>
<circle cx="1382.1" cy="724.1" r="3.0" fill="#98aa2e"/>
<circle cx="1152.8" cy="728.1" r="3.0" fill="#98aa2e"/>
<circle cx="1229.0" cy="736.0" r="3.0" fill="#98aa2e"/>
<path d="M1370.1,673.6 L1373.4,675.4" stroke="#98aa2e" stroke-width="5.5" fill="none" stroke-linecap="round" stroke-linejoin="round"/>
<path d="M1419.7,678.2 L1423.4,680.9" stroke="#98aa2e" stroke-width="4.8" fill="none" stroke-linecap="round" stroke-linejoin="round"/>
<path d="M1435.9,682.2 L1439.9,683.1" stroke="#98aa2e" stroke-width="4.8" fill="none" stroke-linecap="round" stroke-linejoin="round"/>
<path d="M1258.1,705.7 L1260.8,709.4" stroke="#98aa2e" stroke-width="4.8" fill="none" stroke-linecap="round" stroke-linejoin="round"/>
<circle cx="1311.9" cy="711.2" r="3.5" fill="#98aa2e"/>
<circle cx="1301.6" cy="744.7" r="3.5" fill="#98aa2e"/>
<path d="M1262.7,740.6 L1269.1,738.4" stroke="#98aa2e" stroke-width="6.0" fill="none" stroke-linecap="round" stroke-linejoin="round"/>
<path d="M1441.8,745.2 L1444.5,742.8" stroke="#98aa2e" stroke-width="4.8" fill="none" stroke-linecap="round" stroke-linejoin="round"/>
<circle cx="1495.9" cy="507.7" r="2.4" fill="#98aa2e"/>
<circle cx="1474.4" cy="524.4" r="2.4" fill="#98aa2e"/>
<circle cx="1469.7" cy="529.0" r="2.4" fill="#98aa2e"/>
<circle cx="1477.2" cy="534.5" r="2.4" fill="#98aa2e"/>
<circle cx="1474.4" cy="541.3" r="2.4" fill="#98aa2e"/>
<circle cx="1498.7" cy="529.9" r="2.4" fill="#98aa2e"/>
<circle cx="1521.3" cy="524.4" r="2.4" fill="#98aa2e"/>
<circle cx="1532.3" cy="534.5" r="2.4" fill="#98aa2e"/>
<circle cx="1551.0" cy="535.5" r="2.4" fill="#98aa2e"/>
<circle cx="1537.3" cy="577.7" r="2.4" fill="#98aa2e"/>
<circle cx="1560.2" cy="627.1" r="2.4" fill="#98aa2e"/>
<circle cx="1560.2" cy="660.7" r="2.4" fill="#98aa2e"/>
<circle cx="1462.3" cy="684.1" r="2.4" fill="#98aa2e"/>
<circle cx="1467.1" cy="685.2" r="2.4" fill="#98aa2e"/>
<circle cx="1477.2" cy="707.6" r="2.4" fill="#98aa2e"/>
<circle cx="1483.6" cy="722.3" r="2.4" fill="#98aa2e"/>
<circle cx="1506.4" cy="731.8" r="2.4" fill="#98aa2e"/>
<circle cx="1508.8" cy="738.2" r="2.4" fill="#98aa2e"/>
<circle cx="1499.6" cy="741.9" r="2.4" fill="#98aa2e"/>
<circle cx="1534.1" cy="733.7" r="2.4" fill="#98aa2e"/>
<circle cx="1547.4" cy="739.2" r="2.4" fill="#98aa2e"/>
<circle cx="1481.2" cy="750.0" r="2.4" fill="#98aa2e"/>
<circle cx="1469.3" cy="534.5" r="3.0" fill="#98aa2e"/>
<circle cx="1517.0" cy="577.7" r="3.0" fill="#98aa2e"/>
<circle cx="1529.0" cy="691.6" r="3.0" fill="#98aa2e"/>
<path d="M1481.2,534.5 L1487.7,534.5" stroke="#98aa2e" stroke-width="5.5" fill="none" stroke-linecap="round" stroke-linejoin="round"/>
<path d="M1467.5,578.6 L1473.9,575.7" stroke="#98aa2e" stroke-width="6.0" fill="none" stroke-linecap="round" stroke-linejoin="round"/>
<path d="M1551.9,573.5 L1551.9,577.1" stroke="#98aa2e" stroke-width="5.5" fill="none" stroke-linecap="round" stroke-linejoin="round"/>
<path d="M1561.1,616.6 L1564.8,615.7" stroke="#98aa2e" stroke-width="6.0" fill="none" stroke-linecap="round" stroke-linejoin="round"/>
<path d="M1486.7,685.9 L1494.1,688.8" stroke="#98aa2e" stroke-width="5.5" fill="none" stroke-linecap="round" stroke-linejoin="round"/>
<path d="M1517.0,689.6 L1520.7,690.7" stroke="#98aa2e" stroke-width="4.8" fill="none" stroke-linecap="round" stroke-linejoin="round"/>
<path d="M1535.4,692.5 L1539.1,693.4" stroke="#98aa2e" stroke-width="5.5" fill="none" stroke-linecap="round" stroke-linejoin="round"/>
<path d="M852.1,750.0 L858.6,761.5 L869.6,770.7 L880.6,777.1 L884.3,780.8 L889.8,783.6 L906.3,792.8 L917.4,796.4 L928.4,805.6 L941.2,814.8 L948.6,818.5 L951.3,824.9" stroke="#98aa2e" stroke-width="5.2" fill="none" stroke-linecap="round" stroke-linejoin="round"/>
<path d="M961.4,825.8 L972.5,835.0 L989.0,845.1 L1001.9,851.5 L1016.5,864.4 L1025.7,869.9 L1040.4,873.6 L1057.0,885.5 L1093.7,919.5 L1113.9,934.2 L1117.6,939.7 L1132.3,945.2 L1140.0,951.6" stroke="#98aa2e" stroke-width="5.2" fill="none" stroke-linecap="round" stroke-linejoin="round"/>
<circle cx="988.6" cy="845.7" r="4.2" fill="#87a34b"/>
<circle cx="969.7" cy="833.2" r="3.5" fill="#98aa2e"/>
<circle cx="879.7" cy="751.4" r="2.4" fill="#98aa2e"/>
<circle cx="885.2" cy="748.7" r="2.4" fill="#98aa2e"/>
<circle cx="904.9" cy="767.4" r="2.4" fill="#98aa2e"/>
<circle cx="920.7" cy="771.1" r="2.4" fill="#98aa2e"/>
<circle cx="972.1" cy="774.8" r="2.4" fill="#98aa2e"/>
<circle cx="973.9" cy="751.4" r="2.4" fill="#98aa2e"/>
<circle cx="1041.3" cy="756.0" r="2.4" fill="#98aa2e"/>
<circle cx="1047.8" cy="771.1" r="2.4" fill="#98aa2e"/>
<circle cx="1047.8" cy="797.9" r="2.4" fill="#98aa2e"/>
<circle cx="1016.2" cy="808.4" r="2.4" fill="#98aa2e"/>
<circle cx="1112.1" cy="820.3" r="2.4" fill="#98aa2e"/>
<circle cx="1102.0" cy="826.2" r="2.4" fill="#98aa2e"/>
<circle cx="1097.4" cy="839.2" r="2.4" fill="#98aa2e"/>
<circle cx="1100.1" cy="860.7" r="2.4" fill="#98aa2e"/>
<circle cx="1036.8" cy="844.7" r="2.4" fill="#98aa2e"/>
<circle cx="1000.0" cy="843.8" r="2.4" fill="#98aa2e"/>
<circle cx="1008.8" cy="851.2" r="2.4" fill="#98aa2e"/>
<circle cx="1069.8" cy="885.0" r="2.4" fill="#98aa2e"/>
<circle cx="1076.6" cy="885.0" r="2.4" fill="#98aa2e"/>
<circle cx="1083.2" cy="885.0" r="2.4" fill="#98aa2e"/>
<circle cx="1089.7" cy="885.0" r="2.4" fill="#98aa2e"/>
<circle cx="1122.5" cy="757.9" r="2.4" fill="#98aa2e"/>
<circle cx="1128.0" cy="767.4" r="2.4" fill="#98aa2e"/>
<circle cx="1134.5" cy="751.4" r="2.4" fill="#98aa2e"/>
<circle cx="1132.8" cy="847.5" r="2.4" fill="#98aa2e"/>
<circle cx="1140.0" cy="838.7" r="2.4" fill="#98aa2e"/>
<circle cx="1113.0" cy="923.2" r="2.4" fill="#98aa2e"/>
<circle cx="1138.7" cy="924.1" r="2.4" fill="#98aa2e"/>
<circle cx="1132.6" cy="933.3" r="2.4" fill="#98aa2e"/>
<circle cx="858.6" cy="756.0" r="2.4" fill="#98aa2e"/>
<circle cx="870.5" cy="768.0" r="2.4" fill="#98aa2e"/>
<circle cx="874.7" cy="760.6" r="3.5" fill="#98aa2e"/>
<circle cx="940.3" cy="771.1" r="3.8" fill="#98aa2e"/>
<circle cx="1098.8" cy="804.7" r="3.0" fill="#98aa2e"/>
<circle cx="1098.8" cy="875.4" r="3.0" fill="#98aa2e"/>
<path d="M1060.6,813.0 L1074.4,813.9" stroke="#98aa2e" stroke-width="6.0" fill="none" stroke-linecap="round" stroke-linejoin="round"/>
<path d="M1079.9,813.0 L1094.6,813.9" stroke="#98aa2e" stroke-width="6.0" fill="none" stroke-linecap="round" stroke-linejoin="round"/>
<path d="M1111.1,756.9 L1111.1,758.8" stroke="#98aa2e" stroke-width="5.5" fill="none" stroke-linecap="round" stroke-linejoin="round"/>
<path d="M1134.1,865.3 L1137.8,865.3" stroke="#98aa2e" stroke-width="5.5" fill="none" stroke-linecap="round" stroke-linejoin="round"/>
<path d="M1148.8,767.4 L1153.4,767.4" stroke="#98aa2e" stroke-width="4.8" fill="none" stroke-linecap="round" stroke-linejoin="round"/>
<circle cx="1379.3" cy="756.0" r="2.4" fill="#98aa2e"/>
<circle cx="1427.6" cy="756.0" r="2.4" fill="#98aa2e"/>
<circle cx="1390.3" cy="772.9" r="2.4" fill="#98aa2e"/>
<circle cx="1315.0" cy="762.5" r="2.4" fill="#98aa2e"/>
<circle cx="1321.4" cy="763.4" r="2.4" fill="#98aa2e"/>
<circle cx="1314.1" cy="772.0" r="2.4" fill="#98aa2e"/>
<circle cx="1314.6" cy="783.2" r="2.4" fill="#98aa2e"/>
<circle cx="1254.9" cy="780.5" r="2.4" fill="#98aa2e"/>
<circle cx="1267.3" cy="792.4" r="2.4" fill="#98aa2e"/>
<circle cx="1240.1" cy="802.9" r="2.4" fill="#98aa2e"/>
<circle cx="1266.3" cy="809.3" r="2.4" fill="#98aa2e"/>
<circle cx="1199.1" cy="808.4" r="2.4" fill="#98aa2e"/>
<circle cx="1403.6" cy="806.5" r="2.4" fill="#98aa2e"/>
<circle cx="1438.1" cy="791.5" r="2.4" fill="#98aa2e"/>
<circle cx="1231.8" cy="828.9" r="2.4" fill="#98aa2e"/>
<circle cx="1147.9" cy="833.5" r="2.4" fill="#98aa2e"/>
<circle cx="1142.0" cy="839.2" r="2.4" fill="#98aa2e"/>
<circle cx="1230.0" cy="848.4" r="2.4" fill="#98aa2e"/>
<circle cx="1301.6" cy="845.7" r="2.4" fill="#98aa2e"/>
<circle cx="1314.1" cy="836.3" r="2.4" fill="#98aa2e"/>
<circle cx="1315.6" cy="858.9" r="2.4" fill="#98aa2e"/>
<circle cx="1322.4" cy="857.0" r="2.4" fill="#98aa2e"/>
<circle cx="1404.5" cy="854.3" r="2.4" fill="#98aa2e"/>
<circle cx="1435.3" cy="854.3" r="2.4" fill="#98aa2e"/>
<circle cx="1225.0" cy="868.1" r="2.4" fill="#98aa2e"/>
<circle cx="1386.7" cy="871.7" r="2.4" fill="#98aa2e"/>
<circle cx="1394.0" cy="876.3" r="2.4" fill="#98aa2e"/>
<circle cx="1445.4" cy="880.9" r="2.4" fill="#98aa2e"/>
<circle cx="1139.4" cy="924.1" r="2.4" fill="#98aa2e"/>
<circle cx="1154.3" cy="924.1" r="2.4" fill="#98aa2e"/>
<circle cx="1320.5" cy="923.2" r="2.4" fill="#98aa2e"/>
<circle cx="1270.0" cy="949.3" r="2.4" fill="#98aa2e"/>
<circle cx="1229.0" cy="952.2" r="2.4" fill="#98aa2e"/>
<circle cx="1375.6" cy="951.1" r="2.4" fill="#98aa2e"/>
<circle cx="1390.3" cy="954.8" r="2.4" fill="#98aa2e"/>
<circle cx="1422.5" cy="956.6" r="2.4" fill="#98aa2e"/>
<circle cx="1434.4" cy="952.2" r="2.4" fill="#98aa2e"/>
<circle cx="1445.4" cy="954.0" r="2.4" fill="#98aa2e"/>
<circle cx="1296.1" cy="978.3" r="2.4" fill="#98aa2e"/>
<circle cx="1308.2" cy="978.3" r="2.4" fill="#98aa2e"/>
<circle cx="1401.7" cy="971.9" r="2.4" fill="#98aa2e"/>
<circle cx="1415.1" cy="995.0" r="2.4" fill="#98aa2e"/>
<circle cx="1220.4" cy="977.4" r="2.4" fill="#98aa2e"/>
<circle cx="1226.8" cy="982.0" r="2.4" fill="#98aa2e"/>
<circle cx="1256.2" cy="986.6" r="2.4" fill="#98aa2e"/>
<circle cx="1204.4" cy="968.2" r="2.4" fill="#98aa2e"/>
<circle cx="1305.8" cy="770.2" r="3.0" fill="#98aa2e"/>
<circle cx="1364.6" cy="852.5" r="3.0" fill="#98aa2e"/>
<circle cx="1296.1" cy="969.1" r="3.0" fill="#98aa2e"/>
<circle cx="1377.1" cy="972.4" r="3.0" fill="#98aa2e"/>
<circle cx="1362.8" cy="984.7" r="3.0" fill="#98aa2e"/>
<circle cx="1232.4" cy="976.4" r="3.0" fill="#98aa2e"/>
<circle cx="1244.3" cy="982.0" r="3.0" fill="#98aa2e"/>
<path d="M1286.5,801.0 L1290.2,801.0" stroke="#98aa2e" stroke-width="5.5" fill="none" stroke-linecap="round" stroke-linejoin="round"/>
<path d="M1322.7,802.9 L1327.5,802.9" stroke="#98aa2e" stroke-width="6.0" fill="none" stroke-linecap="round" stroke-linejoin="round"/>
<path d="M1362.4,817.6 L1366.1,818.8" stroke="#98aa2e" stroke-width="5.5" fill="none" stroke-linecap="round" stroke-linejoin="round"/>
<path d="M1248.9,881.3 L1248.9,884.6" stroke="#98aa2e" stroke-width="6.0" fill="none" stroke-linecap="round" stroke-linejoin="round"/>
<path d="M1360.0,978.3 L1367.4,979.2" stroke="#98aa2e" stroke-width="6.0" fill="none" stroke-linecap="round" stroke-linejoin="round"/>
<path d="M1140.0,948.9 L1156.1,959.9" stroke="#98aa2e" stroke-width="5.2" fill="none" stroke-linecap="round" stroke-linejoin="round"/>
<path d="M1165.3,960.8 L1170.8,963.6" stroke="#98aa2e" stroke-width="6.0" fill="none" stroke-linecap="round" stroke-linejoin="round"/>
<circle cx="1186.4" cy="961.4" r="3.5" fill="#98aa2e"/>
<circle cx="1211.2" cy="973.7" r="3.5" fill="#98aa2e"/>
<path d="M1194.7,959.9 L1198.4,962.7" stroke="#98aa2e" stroke-width="4.8" fill="none" stroke-linecap="round" stroke-linejoin="round"/>
<path d="M1179.1,964.5 L1193.8,975.5 L1208.5,984.7" stroke="#98aa2e" stroke-width="6.0" fill="none" stroke-linecap="round" stroke-linejoin="round"/>
<path d="M1219.5,986.6 L1230.5,991.1" stroke="#98aa2e" stroke-width="6.0" fill="none" stroke-linecap="round" stroke-linejoin="round"/>
<path d="M1236.0,989.3 L1239.7,995.0" stroke="#98aa2e" stroke-width="4.8" fill="none" stroke-linecap="round" stroke-linejoin="round"/>
<circle cx="1481.2" cy="751.4" r="2.4" fill="#98aa2e"/>
<circle cx="1481.2" cy="760.6" r="2.4" fill="#98aa2e"/>
<circle cx="1474.4" cy="767.4" r="2.4" fill="#98aa2e"/>
<circle cx="1559.7" cy="767.4" r="2.4" fill="#98aa2e"/>
<circle cx="1468.0" cy="804.7" r="2.4" fill="#98aa2e"/>
<circle cx="1489.5" cy="814.8" r="2.4" fill="#98aa2e"/>
<circle cx="1531.4" cy="808.4" r="2.4" fill="#98aa2e"/>
<circle cx="1531.4" cy="818.8" r="2.4" fill="#98aa2e"/>
<circle cx="1555.6" cy="815.7" r="2.4" fill="#98aa2e"/>
<circle cx="1518.3" cy="840.2" r="2.4" fill="#98aa2e"/>
<circle cx="1513.7" cy="846.6" r="2.4" fill="#98aa2e"/>
<circle cx="1466.2" cy="850.3" r="2.4" fill="#98aa2e"/>
<circle cx="1518.3" cy="869.9" r="2.4" fill="#98aa2e"/>
<circle cx="1495.0" cy="880.4" r="2.4" fill="#98aa2e"/>
<circle cx="1559.7" cy="943.8" r="2.4" fill="#98aa2e"/>
<circle cx="1460.5" cy="952.2" r="2.4" fill="#98aa2e"/>
<circle cx="1482.1" cy="949.3" r="2.4" fill="#98aa2e"/>
<circle cx="1560.2" cy="963.2" r="2.4" fill="#98aa2e"/>
<circle cx="1512.1" cy="982.0" r="2.4" fill="#98aa2e"/>
<circle cx="1516.7" cy="982.0" r="2.4" fill="#98aa2e"/>
<circle cx="1561.1" cy="981.0" r="2.4" fill="#98aa2e"/>
<circle cx="1561.1" cy="985.6" r="2.4" fill="#98aa2e"/>
<circle cx="1512.8" cy="995.0" r="2.4" fill="#98aa2e"/>
<circle cx="1489.5" cy="771.1" r="3.5" fill="#98aa2e"/>
<circle cx="1525.7" cy="879.6" r="3.2" fill="#98aa2e"/>
<path d="M1508.4,756.9 L1508.4,760.6" stroke="#98aa2e" stroke-width="6.0" fill="none" stroke-linecap="round" stroke-linejoin="round"/>
<path d="M1500.5,778.1 L1502.7,783.9" stroke="#98aa2e" stroke-width="5.5" fill="none" stroke-linecap="round" stroke-linejoin="round"/>
<path d="M1547.0,791.5 L1550.1,791.5" stroke="#98aa2e" stroke-width="4.8" fill="none" stroke-linecap="round" stroke-linejoin="round"/>
<path d="M1490.8,804.7 L1495.0,804.7" stroke="#98aa2e" stroke-width="6.0" fill="none" stroke-linecap="round" stroke-linejoin="round"/>
<path d="M1484.0,859.8 L1487.7,859.8" stroke="#98aa2e" stroke-width="6.0" fill="none" stroke-linecap="round" stroke-linejoin="round"/>
<path d="M1484.9,918.6 L1488.6,919.5" stroke="#98aa2e" stroke-width="6.0" fill="none" stroke-linecap="round" stroke-linejoin="round"/>
<path d="M1527.1,921.3 L1530.8,921.3" stroke="#98aa2e" stroke-width="6.0" fill="none" stroke-linecap="round" stroke-linejoin="round"/>
<path d="M1479.4,958.6 L1483.1,958.6" stroke="#98aa2e" stroke-width="6.0" fill="none" stroke-linecap="round" stroke-linejoin="round"/>
<path d="M1470.2,982.9 L1473.9,982.9" stroke="#98aa2e" stroke-width="6.0" fill="none" stroke-linecap="round" stroke-linejoin="round"/>
<path d="M1522.6,982.0 L1527.1,982.0" stroke="#98aa2e" stroke-width="6.0" fill="none" stroke-linecap="round" stroke-linejoin="round"/>
<path d="M1547.4,983.8 L1551.9,984.7" stroke="#98aa2e" stroke-width="4.8" fill="none" stroke-linecap="round" stroke-linejoin="round"/>
<path d="M1220.4,990.9 L1230.5,993.7" stroke="#98aa2e" stroke-width="5.0" fill="none" stroke-linecap="round" stroke-linejoin="round"/>
<path d="M1235.1,995.0 L1246.1,1005.6 L1255.3,1010.2 L1270.0,1016.6 L1279.2,1025.8 L1290.2,1032.2 L1305.8,1039.2" stroke="#98aa2e" stroke-width="5.0" fill="none" stroke-linecap="round" stroke-linejoin="round"/>
<path d="M1305.8,1039.2 L1310.4,1030.4" stroke="#98aa2e" stroke-width="5.0" fill="none" stroke-linecap="round" stroke-linejoin="round"/>
<circle cx="1317.8" cy="1040.5" r="3.0" fill="#98aa2e"/>
<circle cx="1297.2" cy="998.8" r="2.4" fill="#98aa2e"/>
<circle cx="1292.4" cy="1008.0" r="2.4" fill="#98aa2e"/>
<path d="M1280.1,1018.5 L1285.6,1020.3" stroke="#98aa2e" stroke-width="4.8" fill="none" stroke-linecap="round" stroke-linejoin="round"/>
<path d="M1315.0,1039.6 L1322.3,1040.5 L1329.7,1044.2 L1342.6,1070.8" stroke="#98aa2e" stroke-width="5.0" fill="none" stroke-linecap="round" stroke-linejoin="round"/>
<path d="M1344.4,1045.1 L1356.3,1068.1" stroke="#98aa2e" stroke-width="5.0" fill="none" stroke-linecap="round" stroke-linejoin="round"/>
<path d="M1367.4,1072.7 L1373.8,1075.4" stroke="#98aa2e" stroke-width="5.5" fill="none" stroke-linecap="round" stroke-linejoin="round"/>
<path d="M1378.4,1076.3 L1384.8,1080.0 L1395.8,1088.3" stroke="#98aa2e" stroke-width="5.5" fill="none" stroke-linecap="round" stroke-linejoin="round"/>
<circle cx="1399.5" cy="1082.8" r="2.4" fill="#98aa2e"/>
<circle cx="1342.0" cy="1014.4" r="2.4" fill="#98aa2e"/>
<circle cx="1378.4" cy="1005.2" r="2.4" fill="#98aa2e"/>
<circle cx="1437.2" cy="1013.5" r="2.4" fill="#98aa2e"/>
<circle cx="1468.9" cy="1013.5" r="2.4" fill="#98aa2e"/>
<circle cx="1510.3" cy="1002.5" r="2.4" fill="#98aa2e"/>
<circle cx="1512.8" cy="995.1" r="2.4" fill="#98aa2e"/>
<circle cx="1418.4" cy="1044.6" r="2.4" fill="#98aa2e"/>
<circle cx="1476.3" cy="1033.2" r="2.4" fill="#98aa2e"/>
<circle cx="1427.6" cy="1077.3" r="2.4" fill="#98aa2e"/>
<circle cx="1443.6" cy="1085.5" r="2.4" fill="#98aa2e"/>
<circle cx="1460.5" cy="1090.1" r="2.4" fill="#98aa2e"/>
<circle cx="1457.7" cy="1107.0" r="2.4" fill="#98aa2e"/>
<path d="M1404.1,1088.3 L1411.4,1094.7 L1419.7,1099.3 L1428.9,1104.8" stroke="#98aa2e" stroke-width="5.0" fill="none" stroke-linecap="round" stroke-linejoin="round"/>
<path d="M1434.4,1104.8 L1445.4,1108.5 L1456.4,1129.6" stroke="#98aa2e" stroke-width="5.0" fill="none" stroke-linecap="round" stroke-linejoin="round"/>
<path d="M1462.0,1130.5 L1468.4,1133.3" stroke="#98aa2e" stroke-width="5.5" fill="none" stroke-linecap="round" stroke-linejoin="round"/>
<path d="M1473.0,1130.5 L1480.3,1137.9 L1487.7,1138.8 L1498.7,1142.5 L1506.0,1148.0 L1516.1,1151.6" stroke="#98aa2e" stroke-width="5.5" fill="none" stroke-linecap="round" stroke-linejoin="round"/>
<path d="M1510.6,1140.6 L1510.6,1145.2" stroke="#98aa2e" stroke-width="5.0" fill="none" stroke-linecap="round" stroke-linejoin="round"/>
<path d="M1531.8,1152.6 L1546.4,1160.8 L1553.8,1163.6 L1563.9,1167.8" stroke="#98aa2e" stroke-width="5.0" fill="none" stroke-linecap="round" stroke-linejoin="round"/>
<circle cx="1563.9" cy="1156.8" r="3.0" fill="#98aa2e"/>
<circle cx="1403.2" cy="1013.5" r="3.0" fill="#98aa2e"/>
<circle cx="1415.1" cy="996.1" r="3.0" fill="#98aa2e"/>
<circle cx="1455.9" cy="1017.2" r="3.0" fill="#98aa2e"/>
<circle cx="1506.0" cy="1009.8" r="3.0" fill="#98aa2e"/>
<circle cx="1382.6" cy="1032.2" r="3.0" fill="#98aa2e"/>
<circle cx="1469.3" cy="1082.8" r="3.0" fill="#98aa2e"/>
<path d="M1368.3,1008.0 L1371.9,1007.5" stroke="#98aa2e" stroke-width="4.8" fill="none" stroke-linecap="round" stroke-linejoin="round"/>
<path d="M1454.6,1000.7 L1457.4,1000.7" stroke="#98aa2e" stroke-width="6.0" fill="none" stroke-linecap="round" stroke-linejoin="round"/>
<path d="M1454.6,1008.9 L1457.4,1008.9" stroke="#98aa2e" stroke-width="6.0" fill="none" stroke-linecap="round" stroke-linejoin="round"/>
<path d="M1500.5,1001.9 L1504.2,1001.0" stroke="#98aa2e" stroke-width="4.8" fill="none" stroke-linecap="round" stroke-linejoin="round"/>
<path d="M1357.2,1035.0 L1359.1,1037.4" stroke="#98aa2e" stroke-width="4.8" fill="none" stroke-linecap="round" stroke-linejoin="round"/>
<path d="M1553.8,1034.1 L1553.8,1036.8" stroke="#98aa2e" stroke-width="6.0" fill="none" stroke-linecap="round" stroke-linejoin="round"/>
<path d="M1531.8,1082.8 L1535.4,1082.8" stroke="#98aa2e" stroke-width="6.0" fill="none" stroke-linecap="round" stroke-linejoin="round"/>
<ellipse cx="1271.1" cy="19.3" rx="15.5" ry="15.5" fill="#e52b00"/><ellipse cx="1446.9" cy="19.4" rx="11.7" ry="11.7" fill="#e39500"/><ellipse cx="1453.6" cy="19.4" rx="11.7" ry="11.7" fill="#e39500"/><ellipse cx="1564.3" cy="19.5" rx="14.8" ry="15" fill="#e34000"/><ellipse cx="1564.3" cy="173.2" rx="14.8" ry="14.8" fill="#e34000"/><ellipse cx="1564.3" cy="219.1" rx="14.8" ry="14.8" fill="#e34000"/><ellipse cx="1564.3" cy="191.8" rx="14.8" ry="14.8" fill="#0a4a58"/><ellipse cx="1271.1" cy="503" rx="15.6" ry="15.8" fill="#e52b00"/><ellipse cx="1446.9" cy="502.9" rx="12" ry="12" fill="#e39400"/><ellipse cx="1453.8" cy="502.9" rx="12" ry="12" fill="#e39400"/><ellipse cx="1506.4" cy="563.7" rx="6.6" ry="6.7" fill="#6e9a5c"/><ellipse cx="1271.1" cy="760.8" rx="15.6" ry="15.6" fill="#073b3c"/><ellipse cx="1446.9" cy="760.8" rx="11.9" ry="11.9" fill="#2a7aab"/><ellipse cx="1453.8" cy="760.8" rx="11.9" ry="11.9" fill="#2a7aab"/>
<g stroke="#98aa2e" stroke-width="4.8" stroke-linecap="round" fill="none"><path d="M1271,19.2 H1292"/><path d="M1276,508 L1286,518"/><path d="M1456,19.2 H1470"/><path d="M1273,745.8 H1288"/><path d="M1437,19.2 H1432"/></g><circle cx="1564.3" cy="192.5" r="1.6" fill="#98aa2e"/>
<rect x="1598.7" y="1151.03" width="70.1" height="18.57" fill="#043e43"/><rect x="1598.7" y="1133.06" width="70.1" height="18.57" fill="#054248"/><rect x="1598.7" y="1115.08" width="70.1" height="18.57" fill="#07464d"/><rect x="1598.7" y="1097.11" width="70.1" height="18.57" fill="#084a52"/><rect x="1598.7" y="1079.14" width="70.1" height="18.57" fill="#0b4e59"/><rect x="1598.7" y="1061.17" width="70.1" height="18.57" fill="#0f5361"/><rect x="1598.7" y="1043.20" width="70.1" height="18.57" fill="#135769"/><rect x="1598.7" y="1025.22" width="70.1" height="18.57" fill="#165c72"/><rect x="1598.7" y="1007.25" width="70.1" height="18.57" fill="#1a617c"/><rect x="1598.7" y="989.28" width="70.1" height="18.57" fill="#1d6686"/><rect x="1598.7" y="971.31" width="70.1" height="18.57" fill="#206b90"/><rect x="1598.7" y="953.34" width="70.1" height="18.57" fill="#236f98"/><rect x="1598.7" y="935.37" width="70.1" height="18.57" fill="#26729e"/><rect x="1598.7" y="917.39" width="70.1" height="18.57" fill="#2876a5"/><rect x="1598.7" y="899.42" width="70.1" height="18.57" fill="#2b79ac"/><rect x="1598.7" y="881.45" width="70.1" height="18.57" fill="#2d7eb4"/><rect x="1598.7" y="863.48" width="70.1" height="18.57" fill="#3082ba"/><rect x="1598.7" y="845.51" width="70.1" height="18.57" fill="#3885b2"/><rect x="1598.7" y="827.53" width="70.1" height="18.57" fill="#3f88a9"/><rect x="1598.7" y="809.56" width="70.1" height="18.57" fill="#468aa0"/><rect x="1598.7" y="791.59" width="70.1" height="18.57" fill="#4d8d97"/><rect x="1598.7" y="773.62" width="70.1" height="18.57" fill="#548f8e"/><rect x="1598.7" y="755.65" width="70.1" height="18.57" fill="#5b9287"/><rect x="1598.7" y="737.67" width="70.1" height="18.57" fill="#629480"/><rect x="1598.7" y="719.70" width="70.1" height="18.57" fill="#68977a"/><rect x="1598.7" y="701.73" width="70.1" height="18.57" fill="#6f9a71"/><rect x="1598.7" y="683.76" width="70.1" height="18.57" fill="#759c66"/><rect x="1598.7" y="665.79" width="70.1" height="18.57" fill="#7c9f5c"/><rect x="1598.7" y="647.82" width="70.1" height="18.57" fill="#82a151"/><rect x="1598.7" y="629.84" width="70.1" height="18.57" fill="#89a447"/><rect x="1598.7" y="611.87" width="70.1" height="18.57" fill="#8fa63d"/><rect x="1598.7" y="593.90" width="70.1" height="18.57" fill="#96a933"/><rect x="1598.7" y="575.93" width="70.1" height="18.57" fill="#9da92b"/><rect x="1598.7" y="557.96" width="70.1" height="18.57" fill="#a4a826"/><rect x="1598.7" y="539.98" width="70.1" height="18.57" fill="#aca620"/><rect x="1598.7" y="522.01" width="70.1" height="18.57" fill="#b4a51a"/><rect x="1598.7" y="504.04" width="70.1" height="18.57" fill="#b7a516"/><rect x="1598.7" y="486.07" width="70.1" height="18.57" fill="#bba411"/><rect x="1598.7" y="468.10" width="70.1" height="18.57" fill="#bea40d"/><rect x="1598.7" y="450.12" width="70.1" height="18.57" fill="#c2a409"/><rect x="1598.7" y="432.15" width="70.1" height="18.57" fill="#c6a406"/><rect x="1598.7" y="414.18" width="70.1" height="18.57" fill="#caa303"/><rect x="1598.7" y="396.21" width="70.1" height="18.57" fill="#cea300"/><rect x="1598.7" y="378.24" width="70.1" height="18.57" fill="#d3a300"/><rect x="1598.7" y="360.27" width="70.1" height="18.57" fill="#d8a200"/><rect x="1598.7" y="342.29" width="70.1" height="18.57" fill="#dda200"/><rect x="1598.7" y="324.32" width="70.1" height="18.57" fill="#e0a100"/><rect x="1598.7" y="306.35" width="70.1" height="18.57" fill="#e19d00"/><rect x="1598.7" y="288.38" width="70.1" height="18.57" fill="#e29900"/><rect x="1598.7" y="270.41" width="70.1" height="18.57" fill="#e39500"/><rect x="1598.7" y="252.43" width="70.1" height="18.57" fill="#e28e00"/><rect x="1598.7" y="234.46" width="70.1" height="18.57" fill="#e28400"/><rect x="1598.7" y="216.49" width="70.1" height="18.57" fill="#e17c00"/><rect x="1598.7" y="198.52" width="70.1" height="18.57" fill="#e07300"/><rect x="1598.7" y="180.55" width="70.1" height="18.57" fill="#e06c00"/><rect x="1598.7" y="162.57" width="70.1" height="18.57" fill="#e16500"/><rect x="1598.7" y="144.60" width="70.1" height="18.57" fill="#e15e00"/><rect x="1598.7" y="126.63" width="70.1" height="18.57" fill="#e25700"/><rect x="1598.7" y="108.66" width="70.1" height="18.57" fill="#e25000"/><rect x="1598.7" y="90.69" width="70.1" height="18.57" fill="#e34a00"/><rect x="1598.7" y="72.72" width="70.1" height="18.57" fill="#e34300"/><rect x="1598.7" y="54.74" width="70.1" height="18.57" fill="#e33c00"/><rect x="1598.7" y="36.77" width="70.1" height="18.57" fill="#e33600"/><rect x="1598.7" y="18.80" width="70.1" height="18.57" fill="#e33000"/><rect x="1598.7" y="17.5" width="70.1" height="1151.0" fill="none" stroke="#000" stroke-width="2.4"/><g stroke="#000" stroke-width="2"><path d="M1668.8,1105.1 h-12"/><path d="M1668.8,977.3 h-12"/><path d="M1668.8,849.5 h-12"/><path d="M1668.8,721.7 h-12"/><path d="M1668.8,593.9 h-12"/><path d="M1668.8,466.1 h-12"/><path d="M1668.8,338.3 h-12"/><path d="M1668.8,210.5 h-12"/><path d="M1668.8,82.7 h-12"/></g>
<text transform="translate(174,37.599999999999994) scale(0.96,1.065)" text-anchor="end" font-size="50" font-family="Liberation Sans, sans-serif" fill="#000">0</text><text transform="translate(174,224.35) scale(0.96,1.065)" text-anchor="end" font-size="50" font-family="Liberation Sans, sans-serif" fill="#000">200</text><text transform="translate(174,411.09999999999997) scale(0.96,1.065)" text-anchor="end" font-size="50" font-family="Liberation Sans, sans-serif" fill="#000">400</text><text transform="translate(174,597.85) scale(0.96,1.065)" text-anchor="end" font-size="50" font-family="Liberation Sans, sans-serif" fill="#000">600</text><text transform="translate(174,784.6) scale(0.96,1.065)" text-anchor="end" font-size="50" font-family="Liberation Sans, sans-serif" fill="#000">800</text><text transform="translate(174,971.35) scale(0.96,1.065)" text-anchor="end" font-size="50" font-family="Liberation Sans, sans-serif" fill="#000">1000</text><text transform="translate(174,1158.1000000000001) scale(0.96,1.065)" text-anchor="end" font-size="50" font-family="Liberation Sans, sans-serif" fill="#000">1200</text><text transform="translate(192.45,1233.8) scale(0.96,1.065)" text-anchor="middle" font-size="50" font-family="Liberation Sans, sans-serif" fill="#000">0</text><text transform="translate(379.164,1233.8) scale(0.96,1.065)" text-anchor="middle" font-size="50" font-family="Liberation Sans, sans-serif" fill="#000">200</text><text transform="translate(565.878,1233.8) scale(0.96,1.065)" text-anchor="middle" font-size="50" font-family="Liberation Sans, sans-serif" fill="#000">400</text><text transform="translate(752.5920000000001,1233.8) scale(0.96,1.065)" text-anchor="middle" font-size="50" font-family="Liberation Sans, sans-serif" fill="#000">600</text><text transform="translate(939.306,1233.8) scale(0.96,1.065)" text-anchor="middle" font-size="50" font-family="Liberation Sans, sans-serif" fill="#000">800</text><text transform="translate(1126.0200000000002,1233.8) scale(0.96,1.065)" text-anchor="middle" font-size="50" font-family="Liberation Sans, sans-serif" fill="#000">1000</text><text transform="translate(1312.7340000000002,1233.8) scale(0.96,1.065)" text-anchor="middle" font-size="50" font-family="Liberation Sans, sans-serif" fill="#000">1200</text><text transform="translate(1499.448,1233.8) scale(0.96,1.065)" text-anchor="middle" font-size="50" font-family="Liberation Sans, sans-serif" fill="#000">1400</text><text transform="translate(1683.5,1121.6) scale(0.93,1.0)" text-anchor="start" font-size="45" font-family="Liberation Sans, sans-serif" fill="#000">-40</text><text transform="translate(1683.5,993.8) scale(0.93,1.0)" text-anchor="start" font-size="45" font-family="Liberation Sans, sans-serif" fill="#000">-30</text><text transform="translate(1683.5,866.0) scale(0.93,1.0)" text-anchor="start" font-size="45" font-family="Liberation Sans, sans-serif" fill="#000">-20</text><text transform="translate(1683.5,738.1999999999999) scale(0.93,1.0)" text-anchor="start" font-size="45" font-family="Liberation Sans, sans-serif" fill="#000">-10</text><text transform="translate(1683.5,610.4) scale(0.93,1.0)" text-anchor="start" font-size="45" font-family="Liberation Sans, sans-serif" fill="#000">0</text><text transform="translate(1683.5,482.59999999999997) scale(0.93,1.0)" text-anchor="start" font-size="45" font-family="Liberation Sans, sans-serif" fill="#000">10</text><text transform="translate(1683.5,354.79999999999995) scale(0.93,1.0)" text-anchor="start" font-size="45" font-family="Liberation Sans, sans-serif" fill="#000">20</text><text transform="translate(1683.5,227.0) scale(0.93,1.0)" text-anchor="start" font-size="45" font-family="Liberation Sans, sans-serif" fill="#000">30</text><text transform="translate(1683.5,99.19999999999999) scale(0.93,1.0)" text-anchor="start" font-size="45" font-family="Liberation Sans, sans-serif" fill="#000">40</text><text transform="translate(870.5,1298) scale(0.957,1.0)" text-anchor="middle" font-size="56" font-family="Liberation Sans, sans-serif" fill="#000" stroke="#000" stroke-width="0.6">Number of columns/reactions</text><text transform="translate(882,1364) scale(0.957,1.0)" text-anchor="middle" font-size="56" font-family="Liberation Sans, sans-serif" fill="#000" stroke="#000" stroke-width="0.6">(6531 nonzero elements)</text><text transform="translate(41,599) rotate(-90) scale(0.955,1.0)" text-anchor="middle" font-size="56" font-family="Liberation Sans, sans-serif" fill="#000" stroke="#000" stroke-width="0.6">Number of rows/metabolites</text>
</svg></body></html>
